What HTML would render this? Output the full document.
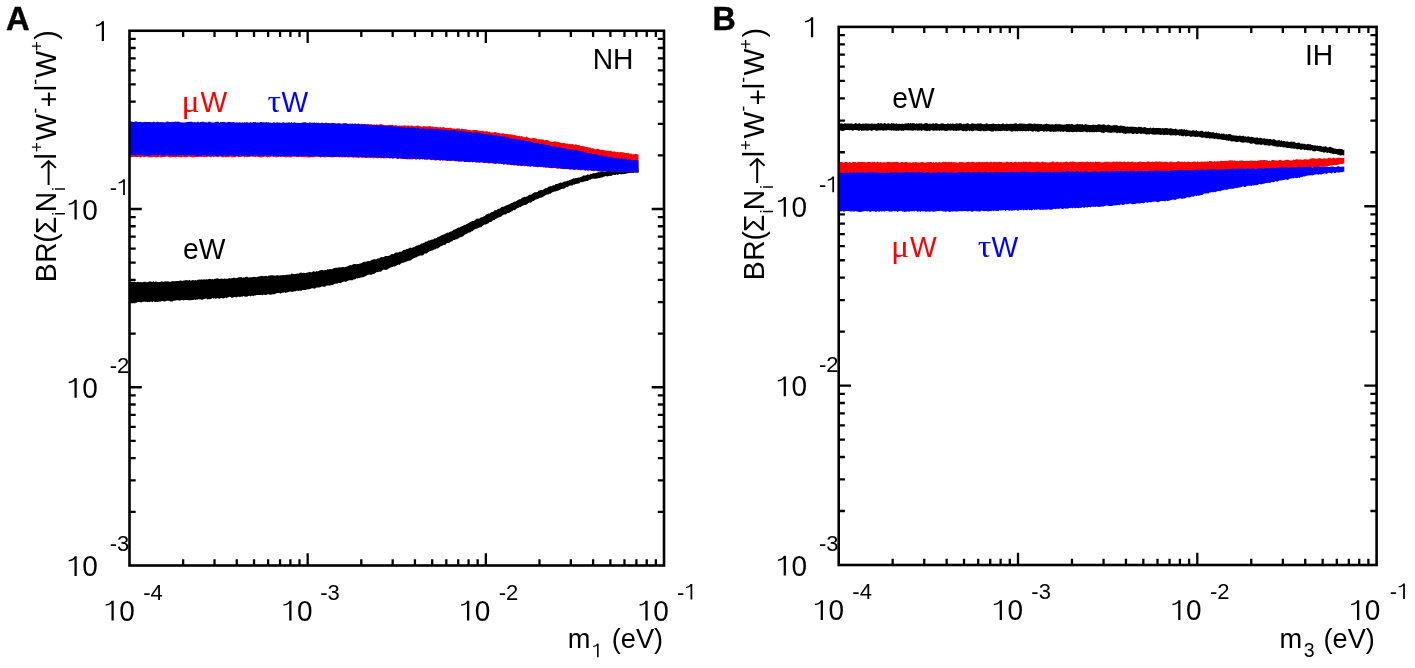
<!DOCTYPE html>
<html><head><meta charset="utf-8"><style>
html,body{margin:0;padding:0;background:#fff;width:1415px;height:668px;overflow:hidden}
svg{display:block;will-change:transform}
text{font-family:"Liberation Sans",sans-serif}
</style></head><body>
<svg width="1415" height="668" viewBox="0 0 1415 668">
<rect width="1415" height="668" fill="#fff"/>
<path d="M183.13,565.5 V559.30 M183.13,30.75 V36.95 M129.5,511.84 H135.70 M664.0,511.84 H657.80 M214.51,565.5 V559.30 M214.51,30.75 V36.95 M129.5,480.45 H135.70 M664.0,480.45 H657.80 M236.77,565.5 V559.30 M236.77,30.75 V36.95 M129.5,458.18 H135.70 M664.0,458.18 H657.80 M254.03,565.5 V559.30 M254.03,30.75 V36.95 M129.5,440.91 H135.70 M664.0,440.91 H657.80 M268.14,565.5 V559.30 M268.14,30.75 V36.95 M129.5,426.79 H135.70 M664.0,426.79 H657.80 M280.07,565.5 V559.30 M280.07,30.75 V36.95 M129.5,414.86 H135.70 M664.0,414.86 H657.80 M290.40,565.5 V559.30 M290.40,30.75 V36.95 M129.5,404.52 H135.70 M664.0,404.52 H657.80 M299.51,565.5 V559.30 M299.51,30.75 V36.95 M129.5,395.41 H135.70 M664.0,395.41 H657.80 M307.67,565.5 V553.20 M307.67,30.75 V43.05 M129.5,387.25 H141.80 M664.0,387.25 H651.70 M361.30,565.5 V559.30 M361.30,30.75 V36.95 M129.5,333.59 H135.70 M664.0,333.59 H657.80 M392.67,565.5 V559.30 M392.67,30.75 V36.95 M129.5,302.20 H135.70 M664.0,302.20 H657.80 M414.93,565.5 V559.30 M414.93,30.75 V36.95 M129.5,279.93 H135.70 M664.0,279.93 H657.80 M432.20,565.5 V559.30 M432.20,30.75 V36.95 M129.5,262.66 H135.70 M664.0,262.66 H657.80 M446.31,565.5 V559.30 M446.31,30.75 V36.95 M129.5,248.54 H135.70 M664.0,248.54 H657.80 M458.23,565.5 V559.30 M458.23,30.75 V36.95 M129.5,236.61 H135.70 M664.0,236.61 H657.80 M468.57,565.5 V559.30 M468.57,30.75 V36.95 M129.5,226.27 H135.70 M664.0,226.27 H657.80 M477.68,565.5 V559.30 M477.68,30.75 V36.95 M129.5,217.16 H135.70 M664.0,217.16 H657.80 M485.83,565.5 V553.20 M485.83,30.75 V43.05 M129.5,209.00 H141.80 M664.0,209.00 H651.70 M539.47,565.5 V559.30 M539.47,30.75 V36.95 M129.5,155.34 H135.70 M664.0,155.34 H657.80 M570.84,565.5 V559.30 M570.84,30.75 V36.95 M129.5,123.95 H135.70 M664.0,123.95 H657.80 M593.10,565.5 V559.30 M593.10,30.75 V36.95 M129.5,101.68 H135.70 M664.0,101.68 H657.80 M610.37,565.5 V559.30 M610.37,30.75 V36.95 M129.5,84.41 H135.70 M664.0,84.41 H657.80 M624.47,565.5 V559.30 M624.47,30.75 V36.95 M129.5,70.29 H135.70 M664.0,70.29 H657.80 M636.40,565.5 V559.30 M636.40,30.75 V36.95 M129.5,58.36 H135.70 M664.0,58.36 H657.80 M646.73,565.5 V559.30 M646.73,30.75 V36.95 M129.5,48.02 H135.70 M664.0,48.02 H657.80 M655.85,565.5 V559.30 M655.85,30.75 V36.95 M129.5,38.91 H135.70 M664.0,38.91 H657.80" stroke="#000" stroke-width="2.3" fill="none"/>
<path d="M892.67,565.0 V558.80 M892.67,26.9 V33.10 M838.7,511.01 H844.90 M1376.6,511.01 H1370.40 M924.25,565.0 V558.80 M924.25,26.9 V33.10 M838.7,479.42 H844.90 M1376.6,479.42 H1370.40 M946.65,565.0 V558.80 M946.65,26.9 V33.10 M838.7,457.01 H844.90 M1376.6,457.01 H1370.40 M964.03,565.0 V558.80 M964.03,26.9 V33.10 M838.7,439.63 H844.90 M1376.6,439.63 H1370.40 M978.22,565.0 V558.80 M978.22,26.9 V33.10 M838.7,425.43 H844.90 M1376.6,425.43 H1370.40 M990.23,565.0 V558.80 M990.23,26.9 V33.10 M838.7,413.42 H844.90 M1376.6,413.42 H1370.40 M1000.62,565.0 V558.80 M1000.62,26.9 V33.10 M838.7,403.02 H844.90 M1376.6,403.02 H1370.40 M1009.80,565.0 V558.80 M1009.80,26.9 V33.10 M838.7,393.84 H844.90 M1376.6,393.84 H1370.40 M1018.00,565.0 V552.70 M1018.00,26.9 V39.20 M838.7,385.63 H851.00 M1376.6,385.63 H1364.30 M1071.97,565.0 V558.80 M1071.97,26.9 V33.10 M838.7,331.64 H844.90 M1376.6,331.64 H1370.40 M1103.55,565.0 V558.80 M1103.55,26.9 V33.10 M838.7,300.05 H844.90 M1376.6,300.05 H1370.40 M1125.95,565.0 V558.80 M1125.95,26.9 V33.10 M838.7,277.64 H844.90 M1376.6,277.64 H1370.40 M1143.33,565.0 V558.80 M1143.33,26.9 V33.10 M838.7,260.26 H844.90 M1376.6,260.26 H1370.40 M1157.52,565.0 V558.80 M1157.52,26.9 V33.10 M838.7,246.06 H844.90 M1376.6,246.06 H1370.40 M1169.53,565.0 V558.80 M1169.53,26.9 V33.10 M838.7,234.05 H844.90 M1376.6,234.05 H1370.40 M1179.92,565.0 V558.80 M1179.92,26.9 V33.10 M838.7,223.65 H844.90 M1376.6,223.65 H1370.40 M1189.10,565.0 V558.80 M1189.10,26.9 V33.10 M838.7,214.47 H844.90 M1376.6,214.47 H1370.40 M1197.30,565.0 V552.70 M1197.30,26.9 V39.20 M838.7,206.27 H851.00 M1376.6,206.27 H1364.30 M1251.27,565.0 V558.80 M1251.27,26.9 V33.10 M838.7,152.27 H844.90 M1376.6,152.27 H1370.40 M1282.85,565.0 V558.80 M1282.85,26.9 V33.10 M838.7,120.69 H844.90 M1376.6,120.69 H1370.40 M1305.25,565.0 V558.80 M1305.25,26.9 V33.10 M838.7,98.28 H844.90 M1376.6,98.28 H1370.40 M1322.63,565.0 V558.80 M1322.63,26.9 V33.10 M838.7,80.89 H844.90 M1376.6,80.89 H1370.40 M1336.82,565.0 V558.80 M1336.82,26.9 V33.10 M838.7,66.69 H844.90 M1376.6,66.69 H1370.40 M1348.83,565.0 V558.80 M1348.83,26.9 V33.10 M838.7,54.68 H844.90 M1376.6,54.68 H1370.40 M1359.22,565.0 V558.80 M1359.22,26.9 V33.10 M838.7,44.28 H844.90 M1376.6,44.28 H1370.40 M1368.40,565.0 V558.80 M1368.40,26.9 V33.10 M838.7,35.11 H844.90 M1376.6,35.11 H1370.40" stroke="#000" stroke-width="2.3" fill="none"/>
<path d="M129.5,281.6 L130.7,281.9 L131.9,281.4 L133.1,282.1 L134.3,281.6 L135.5,281.9 L136.7,282.2 L137.9,281.8 L139.1,282.3 L140.3,281.9 L141.5,282.3 L142.7,282.3 L143.9,281.9 L145.1,281.5 L146.3,282.3 L147.5,282.2 L148.7,281.7 L149.9,281.3 L151.1,281.7 L152.3,281.9 L153.5,281.3 L154.7,282.3 L155.9,281.3 L157.1,281.9 L158.3,282.1 L159.5,282.1 L160.7,281.8 L161.9,281.2 L163.1,281.9 L164.3,281.4 L165.5,281.3 L166.7,281.5 L167.9,281.3 L169.1,281.8 L170.3,281.7 L171.5,281.5 L172.7,281.0 L173.9,281.2 L175.1,281.3 L176.3,280.9 L177.5,281.0 L178.7,281.1 L179.9,280.5 L181.1,280.5 L182.3,281.0 L183.5,280.6 L184.7,280.6 L185.9,280.1 L187.1,280.2 L188.3,280.6 L189.5,279.8 L190.7,280.7 L191.9,280.3 L193.1,279.9 L194.3,280.5 L195.5,280.0 L196.7,280.5 L197.9,279.7 L199.1,279.5 L200.3,279.7 L201.5,279.3 L202.7,279.8 L203.9,279.3 L205.1,279.4 L206.3,279.3 L207.5,279.4 L208.7,278.9 L209.9,278.7 L211.1,279.2 L212.3,278.9 L213.5,279.5 L214.7,278.8 L215.9,278.7 L217.1,278.3 L218.3,278.4 L219.5,279.0 L220.7,278.8 L221.9,278.4 L223.1,279.0 L224.3,278.5 L225.5,278.8 L226.7,278.7 L227.9,278.7 L229.1,277.9 L230.3,278.5 L231.5,278.3 L232.7,278.1 L233.9,277.5 L235.1,278.3 L236.3,277.9 L237.5,277.7 L238.7,277.2 L239.9,277.3 L241.1,277.1 L242.3,277.7 L243.5,277.5 L244.7,277.5 L245.9,276.8 L247.1,276.7 L248.3,277.5 L249.5,277.4 L250.7,277.3 L251.9,277.2 L253.1,276.9 L254.3,276.7 L255.5,277.0 L256.7,277.2 L257.9,276.6 L259.1,276.6 L260.3,276.3 L261.5,275.8 L262.7,276.0 L263.9,276.2 L265.1,276.0 L266.3,275.8 L267.5,276.4 L268.7,275.4 L269.9,275.5 L271.1,275.3 L272.3,275.3 L273.5,275.6 L274.7,275.5 L275.9,275.8 L277.1,275.1 L278.3,275.6 L279.5,275.5 L280.7,275.3 L281.9,275.2 L283.1,274.9 L284.3,275.2 L285.5,275.1 L286.7,274.8 L287.9,274.8 L289.1,274.4 L290.3,274.7 L291.5,273.6 L292.7,273.8 L293.9,274.2 L295.1,274.0 L296.3,273.7 L297.5,273.6 L298.7,273.7 L299.9,272.8 L301.1,272.5 L302.3,273.0 L303.5,272.8 L304.7,273.1 L305.9,273.0 L307.1,272.6 L308.3,272.5 L309.5,271.7 L310.7,272.3 L311.9,272.3 L313.1,271.2 L314.3,271.5 L315.5,271.7 L316.7,271.1 L317.9,271.5 L319.1,270.8 L320.3,270.2 L321.5,270.1 L322.7,270.1 L323.9,270.4 L325.1,270.1 L326.3,270.2 L327.5,269.3 L328.7,269.4 L329.9,268.9 L331.1,269.2 L332.3,269.1 L333.5,268.3 L334.7,267.9 L335.9,267.8 L337.1,267.7 L338.3,267.4 L339.5,267.3 L340.7,267.6 L341.9,267.1 L343.1,267.0 L344.3,267.2 L345.5,266.9 L346.7,266.4 L347.9,266.2 L349.1,265.5 L350.3,264.9 L351.5,265.2 L352.7,264.4 L353.9,264.1 L355.1,263.9 L356.3,264.3 L357.5,264.1 L358.7,263.9 L359.9,263.6 L361.1,263.3 L362.3,262.6 L363.5,262.0 L364.7,261.7 L365.9,261.8 L367.1,261.3 L368.3,260.9 L369.5,261.3 L370.7,260.4 L371.9,259.8 L373.1,259.6 L374.3,259.3 L375.5,259.3 L376.7,259.3 L377.9,258.3 L379.1,258.4 L380.3,257.6 L381.5,257.0 L382.7,257.3 L383.9,256.9 L385.1,256.0 L386.3,255.9 L387.5,256.1 L388.7,255.8 L389.9,255.4 L391.1,254.2 L392.3,253.9 L393.5,254.2 L394.7,253.1 L395.9,252.5 L397.1,252.5 L398.3,252.4 L399.5,251.8 L400.7,251.8 L401.9,251.5 L403.1,250.1 L404.3,250.0 L405.5,249.7 L406.7,248.8 L407.9,249.0 L409.1,248.0 L410.3,247.6 L411.5,247.9 L412.7,247.4 L413.9,246.9 L415.1,246.5 L416.3,245.7 L417.5,245.6 L418.7,244.9 L419.9,244.8 L421.1,243.4 L422.3,243.6 L423.5,243.0 L424.7,242.4 L425.9,241.5 L427.1,241.6 L428.3,240.5 L429.5,240.5 L430.7,240.0 L431.9,239.5 L433.1,239.5 L434.3,238.6 L435.5,238.4 L436.7,238.0 L437.9,236.7 L439.1,236.8 L440.3,236.0 L441.5,235.2 L442.7,234.8 L443.9,234.6 L445.1,233.8 L446.3,233.3 L447.5,232.5 L448.7,232.7 L449.9,231.7 L451.1,231.5 L452.3,230.9 L453.5,229.8 L454.7,229.6 L455.9,229.0 L457.1,228.2 L458.3,227.5 L459.5,227.4 L460.7,226.7 L461.9,226.3 L463.1,225.7 L464.3,224.9 L465.5,224.7 L466.7,224.0 L467.9,223.5 L469.1,222.4 L470.3,222.1 L471.5,221.4 L472.7,220.7 L473.9,220.9 L475.1,220.0 L476.3,219.0 L477.5,218.6 L478.7,218.8 L479.9,218.2 L481.1,217.3 L482.3,217.2 L483.5,216.4 L484.7,216.0 L485.9,214.8 L487.1,214.1 L488.3,213.4 L489.5,213.7 L490.7,212.5 L491.9,212.0 L493.1,212.0 L494.3,210.6 L495.5,209.9 L496.7,210.2 L497.9,208.8 L499.1,208.8 L500.3,208.2 L501.5,207.1 L502.7,206.7 L503.9,206.8 L505.1,206.0 L506.3,205.3 L507.5,205.0 L508.7,204.6 L509.9,203.9 L511.1,202.9 L512.3,203.1 L513.5,202.0 L514.7,201.5 L515.9,201.5 L517.1,200.6 L518.3,199.7 L519.5,199.3 L520.7,199.2 L521.9,197.7 L523.1,197.4 L524.3,196.7 L525.5,197.1 L526.7,196.4 L527.9,196.1 L529.1,194.8 L530.3,194.8 L531.5,194.5 L532.7,193.6 L533.9,192.6 L535.1,192.2 L536.3,192.3 L537.5,191.9 L538.7,190.6 L539.9,190.5 L541.1,189.8 L542.3,190.0 L543.5,189.6 L544.7,188.4 L545.9,188.2 L547.1,188.1 L548.3,186.7 L549.5,186.6 L550.7,186.0 L551.9,186.3 L553.1,185.0 L554.3,185.4 L555.5,184.1 L556.7,184.1 L557.9,183.8 L559.1,183.2 L560.3,182.4 L561.5,182.7 L562.7,182.4 L563.9,181.6 L565.1,181.5 L566.3,181.2 L567.5,180.8 L568.7,180.5 L569.9,180.0 L571.1,179.5 L572.3,179.1 L573.5,178.3 L574.7,178.4 L575.9,177.9 L577.1,177.9 L578.3,177.4 L579.5,177.4 L580.7,176.8 L581.9,176.7 L583.1,175.6 L584.3,175.5 L585.5,175.6 L586.7,175.0 L587.9,174.2 L589.1,174.9 L590.3,173.8 L591.5,173.9 L592.7,173.6 L593.9,173.0 L595.1,173.2 L596.3,172.8 L597.5,172.4 L598.7,171.9 L599.9,172.3 L601.1,171.6 L602.3,171.5 L603.5,171.4 L604.7,171.4 L605.9,171.3 L607.1,171.4 L608.3,171.2 L609.5,171.1 L610.7,170.2 L611.9,170.5 L613.1,170.5 L614.3,170.4 L615.5,169.5 L616.7,169.3 L617.9,169.4 L619.1,169.7 L620.3,169.6 L621.5,169.5 L622.7,169.2 L623.9,169.4 L625.1,169.0 L626.3,169.1 L627.5,168.3 L628.7,168.2 L629.9,168.6 L631.1,168.9 L632.3,168.1 L633.5,168.8 L634.7,168.7 L635.9,169.0 L637.1,168.6 L638.3,168.5 L638.5,168.4 L638.5,172.6 L638.3,172.9 L637.1,172.4 L635.9,172.7 L634.7,172.6 L633.5,173.0 L632.3,172.7 L631.1,172.7 L629.9,173.1 L628.7,173.1 L627.5,173.6 L626.3,173.6 L625.1,173.9 L623.9,174.0 L622.7,174.1 L621.5,174.4 L620.3,174.0 L619.1,174.1 L617.9,175.0 L616.7,174.2 L615.5,175.0 L614.3,175.1 L613.1,174.6 L611.9,175.7 L610.7,175.9 L609.5,175.8 L608.3,176.2 L607.1,176.5 L605.9,175.9 L604.7,176.6 L603.5,176.8 L602.3,177.4 L601.1,177.6 L599.9,177.9 L598.7,177.9 L597.5,178.5 L596.3,178.6 L595.1,178.9 L593.9,178.6 L592.7,178.7 L591.5,179.1 L590.3,179.7 L589.1,179.7 L587.9,180.9 L586.7,180.9 L585.5,181.3 L584.3,181.6 L583.1,182.1 L581.9,182.2 L580.7,182.0 L579.5,183.3 L578.3,183.6 L577.1,183.7 L575.9,184.1 L574.7,184.6 L573.5,184.4 L572.3,185.5 L571.1,185.4 L569.9,185.6 L568.7,186.2 L567.5,187.2 L566.3,187.0 L565.1,188.1 L563.9,188.8 L562.7,188.7 L561.5,189.0 L560.3,189.6 L559.1,190.2 L557.9,190.8 L556.7,191.1 L555.5,191.6 L554.3,191.5 L553.1,192.0 L551.9,192.6 L550.7,193.7 L549.5,193.7 L548.3,194.5 L547.1,194.4 L545.9,194.9 L544.7,195.7 L543.5,196.6 L542.3,197.2 L541.1,197.7 L539.9,197.8 L538.7,198.5 L537.5,199.0 L536.3,199.6 L535.1,199.7 L533.9,201.1 L532.7,200.9 L531.5,202.3 L530.3,202.8 L529.1,202.4 L527.9,203.4 L526.7,204.4 L525.5,205.1 L524.3,205.1 L523.1,205.5 L521.9,206.0 L520.7,207.3 L519.5,207.1 L518.3,208.1 L517.1,208.2 L515.9,209.2 L514.7,210.3 L513.5,209.9 L512.3,211.3 L511.1,211.5 L509.9,212.5 L508.7,212.9 L507.5,213.0 L506.3,214.3 L505.1,214.5 L503.9,214.6 L502.7,215.2 L501.5,216.3 L500.3,216.9 L499.1,217.3 L497.9,217.7 L496.7,218.5 L495.5,219.1 L494.3,220.3 L493.1,220.0 L491.9,221.4 L490.7,222.1 L489.5,221.9 L488.3,223.4 L487.1,223.8 L485.9,224.6 L484.7,224.6 L483.5,225.3 L482.3,225.9 L481.1,227.2 L479.9,227.3 L478.7,227.7 L477.5,228.4 L476.3,228.8 L475.1,229.2 L473.9,229.8 L472.7,231.2 L471.5,231.2 L470.3,232.6 L469.1,232.4 L467.9,233.0 L466.7,233.9 L465.5,234.2 L464.3,235.0 L463.1,236.2 L461.9,236.7 L460.7,237.2 L459.5,237.6 L458.3,238.5 L457.1,239.2 L455.9,239.3 L454.7,240.1 L453.5,239.9 L452.3,241.3 L451.1,241.6 L449.9,242.5 L448.7,242.9 L447.5,243.1 L446.3,243.4 L445.1,245.0 L443.9,244.7 L442.7,245.6 L441.5,246.0 L440.3,246.6 L439.1,247.6 L437.9,248.4 L436.7,248.2 L435.5,249.2 L434.3,249.4 L433.1,250.2 L431.9,250.6 L430.7,250.9 L429.5,251.4 L428.3,252.0 L427.1,253.3 L425.9,253.4 L424.7,253.6 L423.5,254.9 L422.3,255.5 L421.1,255.4 L419.9,255.6 L418.7,256.2 L417.5,256.6 L416.3,257.4 L415.1,257.6 L413.9,258.3 L412.7,258.8 L411.5,259.7 L410.3,260.5 L409.1,260.8 L407.9,261.0 L406.7,261.5 L405.5,262.1 L404.3,262.4 L403.1,262.8 L401.9,263.0 L400.7,263.7 L399.5,264.9 L398.3,264.5 L397.1,265.3 L395.9,265.9 L394.7,266.6 L393.5,266.4 L392.3,266.9 L391.1,267.3 L389.9,267.9 L388.7,268.4 L387.5,269.4 L386.3,269.7 L385.1,270.1 L383.9,269.6 L382.7,270.0 L381.5,271.2 L380.3,271.8 L379.1,271.8 L377.9,272.3 L376.7,272.0 L375.5,272.9 L374.3,273.8 L373.1,274.1 L371.9,274.5 L370.7,275.0 L369.5,274.6 L368.3,274.8 L367.1,275.3 L365.9,276.0 L364.7,276.6 L363.5,277.2 L362.3,277.3 L361.1,277.6 L359.9,278.1 L358.7,278.1 L357.5,278.5 L356.3,278.3 L355.1,279.4 L353.9,279.2 L352.7,280.2 L351.5,280.3 L350.3,280.2 L349.1,280.3 L347.9,280.8 L346.7,281.5 L345.5,281.9 L344.3,281.5 L343.1,281.8 L341.9,282.6 L340.7,282.9 L339.5,283.0 L338.3,283.1 L337.1,283.8 L335.9,283.4 L334.7,284.0 L333.5,284.4 L332.3,285.2 L331.1,285.1 L329.9,285.7 L328.7,285.5 L327.5,285.5 L326.3,285.7 L325.1,286.7 L323.9,286.7 L322.7,286.5 L321.5,286.4 L320.3,287.2 L319.1,287.6 L317.9,287.5 L316.7,287.6 L315.5,288.2 L314.3,288.7 L313.1,288.2 L311.9,288.2 L310.7,288.7 L309.5,289.0 L308.3,289.5 L307.1,289.2 L305.9,290.0 L304.7,290.1 L303.5,290.1 L302.3,289.9 L301.1,290.9 L299.9,290.4 L298.7,291.1 L297.5,290.7 L296.3,290.8 L295.1,291.6 L293.9,291.2 L292.7,292.1 L291.5,291.8 L290.3,291.6 L289.1,291.8 L287.9,292.2 L286.7,292.6 L285.5,293.1 L284.3,292.3 L283.1,292.7 L281.9,292.7 L280.7,293.7 L279.5,292.9 L278.3,292.9 L277.1,293.1 L275.9,293.6 L274.7,294.2 L273.5,294.3 L272.3,294.3 L271.1,294.7 L269.9,294.8 L268.7,294.2 L267.5,294.2 L266.3,295.1 L265.1,295.0 L263.9,294.4 L262.7,295.2 L261.5,295.0 L260.3,295.1 L259.1,295.1 L257.9,295.1 L256.7,295.0 L255.5,295.4 L254.3,295.6 L253.1,296.3 L251.9,295.5 L250.7,296.5 L249.5,295.8 L248.3,296.1 L247.1,296.7 L245.9,296.8 L244.7,296.4 L243.5,296.1 L242.3,296.7 L241.1,296.6 L239.9,297.3 L238.7,296.6 L237.5,296.9 L236.3,297.6 L235.1,296.7 L233.9,297.2 L232.7,297.7 L231.5,297.7 L230.3,297.0 L229.1,297.1 L227.9,297.2 L226.7,298.2 L225.5,297.6 L224.3,298.2 L223.1,298.4 L221.9,297.9 L220.7,297.9 L219.5,298.7 L218.3,298.4 L217.1,298.1 L215.9,298.7 L214.7,298.3 L213.5,298.4 L212.3,298.1 L211.1,299.0 L209.9,299.3 L208.7,299.0 L207.5,299.4 L206.3,298.5 L205.1,298.8 L203.9,299.1 L202.7,299.7 L201.5,299.8 L200.3,299.3 L199.1,299.2 L197.9,299.4 L196.7,299.6 L195.5,300.1 L194.3,299.4 L193.1,300.1 L191.9,300.1 L190.7,300.3 L189.5,300.3 L188.3,300.2 L187.1,299.9 L185.9,300.0 L184.7,300.1 L183.5,300.6 L182.3,299.9 L181.1,300.1 L179.9,300.8 L178.7,300.3 L177.5,300.2 L176.3,300.2 L175.1,300.8 L173.9,300.6 L172.7,301.4 L171.5,301.4 L170.3,301.5 L169.1,300.8 L167.9,300.7 L166.7,300.7 L165.5,301.2 L164.3,301.5 L163.1,301.3 L161.9,301.1 L160.7,301.4 L159.5,301.6 L158.3,301.8 L157.1,301.9 L155.9,302.1 L154.7,301.9 L153.5,301.3 L152.3,302.2 L151.1,301.6 L149.9,302.0 L148.7,301.8 L147.5,302.2 L146.3,301.7 L145.1,301.8 L143.9,301.8 L142.7,301.7 L141.5,302.6 L140.3,302.3 L139.1,302.0 L137.9,302.1 L136.7,302.8 L135.5,302.3 L134.3,302.0 L133.1,302.7 L131.9,302.5 L130.7,302.9 L129.5,301.9Z" fill="#000"/>
<path d="M129.5,122.7 L130.7,122.3 L131.9,122.3 L133.1,122.2 L134.3,123.2 L135.5,122.9 L136.7,123.1 L137.9,123.0 L139.1,122.2 L140.3,122.6 L141.5,122.2 L142.7,122.8 L143.9,122.3 L145.1,122.8 L146.3,123.0 L147.5,122.4 L148.7,122.2 L149.9,123.1 L151.1,122.6 L152.3,122.6 L153.5,123.0 L154.7,122.9 L155.9,123.1 L157.1,123.1 L158.3,123.0 L159.5,122.6 L160.7,122.6 L161.9,123.1 L163.1,123.3 L164.3,122.9 L165.5,122.5 L166.7,123.1 L167.9,123.0 L169.1,123.1 L170.3,122.4 L171.5,122.7 L172.7,123.2 L173.9,123.2 L175.1,122.9 L176.3,122.7 L177.5,122.6 L178.7,123.2 L179.9,123.1 L181.1,122.6 L182.3,122.9 L183.5,123.0 L184.7,123.0 L185.9,122.3 L187.1,123.0 L188.3,122.7 L189.5,123.0 L190.7,122.9 L191.9,122.4 L193.1,122.3 L194.3,123.0 L195.5,123.1 L196.7,122.6 L197.9,123.1 L199.1,123.4 L200.3,122.4 L201.5,122.9 L202.7,122.5 L203.9,122.9 L205.1,122.4 L206.3,122.9 L207.5,123.2 L208.7,123.4 L209.9,122.8 L211.1,122.7 L212.3,122.4 L213.5,123.3 L214.7,122.7 L215.9,123.0 L217.1,122.9 L218.3,123.2 L219.5,123.1 L220.7,122.8 L221.9,122.4 L223.1,123.3 L224.3,122.9 L225.5,122.5 L226.7,122.4 L227.9,123.2 L229.1,123.3 L230.3,122.4 L231.5,122.4 L232.7,122.9 L233.9,123.4 L235.1,122.4 L236.3,123.0 L237.5,122.5 L238.7,122.8 L239.9,122.6 L241.1,123.3 L242.3,122.6 L243.5,123.2 L244.7,123.0 L245.9,122.5 L247.1,122.6 L248.3,123.3 L249.5,123.2 L250.7,123.1 L251.9,122.9 L253.1,123.1 L254.3,123.4 L255.5,123.2 L256.7,122.7 L257.9,122.5 L259.1,123.5 L260.3,122.9 L261.5,122.7 L262.7,123.5 L263.9,122.6 L265.1,123.4 L266.3,122.9 L267.5,122.9 L268.7,122.9 L269.9,123.2 L271.1,123.1 L272.3,122.9 L273.5,123.1 L274.7,122.8 L275.9,123.1 L277.1,123.1 L278.3,123.6 L279.5,122.9 L280.7,123.1 L281.9,123.3 L283.1,122.8 L284.3,122.8 L285.5,123.1 L286.7,123.4 L287.9,123.1 L289.1,123.5 L290.3,123.5 L291.5,123.2 L292.7,123.5 L293.9,123.2 L295.1,123.1 L296.3,123.6 L297.5,123.0 L298.7,123.6 L299.9,122.9 L301.1,122.8 L302.3,123.1 L303.5,123.6 L304.7,123.2 L305.9,123.3 L307.1,122.7 L308.3,123.6 L309.5,122.8 L310.7,122.6 L311.9,122.9 L313.1,122.9 L314.3,123.6 L315.5,122.7 L316.7,123.2 L317.9,122.7 L319.1,122.8 L320.3,123.6 L321.5,122.9 L322.7,122.8 L323.9,123.8 L325.1,123.5 L326.3,123.0 L327.5,123.7 L328.7,122.9 L329.9,123.6 L331.1,123.0 L332.3,123.8 L333.5,123.4 L334.7,123.0 L335.9,123.8 L337.1,123.7 L338.3,123.5 L339.5,123.7 L340.7,124.1 L341.9,123.9 L343.1,124.0 L344.3,123.2 L345.5,123.5 L346.7,123.3 L347.9,124.1 L349.1,123.4 L350.3,124.2 L351.5,123.8 L352.7,123.7 L353.9,124.0 L355.1,123.5 L356.3,123.9 L357.5,123.9 L358.7,123.6 L359.9,124.5 L361.1,123.5 L362.3,124.0 L363.5,124.3 L364.7,123.9 L365.9,124.5 L367.1,123.7 L368.3,124.2 L369.5,124.5 L370.7,124.1 L371.9,124.5 L373.1,124.8 L374.3,124.2 L375.5,125.0 L376.7,124.2 L377.9,124.9 L379.1,124.5 L380.3,124.1 L381.5,124.6 L382.7,124.5 L383.9,125.0 L385.1,125.3 L386.3,125.3 L387.5,125.3 L388.7,124.8 L389.9,125.0 L391.1,125.0 L392.3,124.6 L393.5,125.5 L394.7,125.4 L395.9,125.0 L397.1,125.7 L398.3,125.8 L399.5,125.4 L400.7,125.7 L401.9,125.5 L403.1,125.7 L404.3,125.3 L405.5,125.4 L406.7,125.8 L407.9,125.4 L409.1,125.6 L410.3,126.1 L411.5,125.2 L412.7,126.0 L413.9,126.2 L415.1,126.3 L416.3,125.8 L417.5,125.5 L418.7,125.7 L419.9,126.2 L421.1,126.4 L422.3,126.7 L423.5,126.1 L424.7,126.2 L425.9,126.5 L427.1,126.2 L428.3,126.5 L429.5,126.0 L430.7,126.3 L431.9,126.9 L433.1,126.3 L434.3,127.3 L435.5,126.8 L436.7,127.1 L437.9,127.3 L439.1,127.6 L440.3,126.9 L441.5,127.8 L442.7,127.3 L443.9,127.0 L445.1,128.0 L446.3,128.0 L447.5,127.7 L448.7,127.9 L449.9,127.8 L451.1,127.7 L452.3,128.5 L453.5,128.5 L454.7,128.6 L455.9,129.0 L457.1,128.2 L458.3,128.4 L459.5,128.6 L460.7,129.5 L461.9,128.6 L463.1,128.9 L464.3,129.3 L465.5,129.1 L466.7,129.5 L467.9,129.9 L469.1,130.1 L470.3,130.1 L471.5,130.4 L472.7,130.2 L473.9,129.9 L475.1,130.1 L476.3,130.0 L477.5,130.3 L478.7,130.9 L479.9,130.7 L481.1,131.0 L482.3,130.8 L483.5,131.2 L484.7,131.6 L485.9,131.3 L487.1,131.1 L488.3,132.1 L489.5,131.5 L490.7,132.6 L491.9,132.4 L493.1,132.6 L494.3,132.2 L495.5,132.1 L496.7,132.5 L497.9,133.1 L499.1,132.7 L500.3,133.4 L501.5,133.7 L502.7,133.1 L503.9,133.6 L505.1,133.7 L506.3,133.9 L507.5,133.7 L508.7,134.4 L509.9,134.2 L511.1,134.5 L512.3,134.5 L513.5,135.2 L514.7,135.0 L515.9,135.4 L517.1,135.8 L518.3,136.1 L519.5,135.8 L520.7,136.6 L521.9,135.9 L523.1,136.9 L524.3,137.2 L525.5,137.3 L526.7,136.6 L527.9,137.5 L529.1,137.9 L530.3,138.2 L531.5,138.4 L532.7,137.9 L533.9,138.1 L535.1,138.3 L536.3,138.4 L537.5,139.4 L538.7,139.0 L539.9,139.5 L541.1,139.2 L542.3,139.4 L543.5,139.5 L544.7,140.6 L545.9,139.9 L547.1,140.0 L548.3,140.2 L549.5,141.3 L550.7,141.4 L551.9,141.7 L553.1,141.9 L554.3,141.2 L555.5,141.4 L556.7,141.8 L557.9,141.8 L559.1,142.1 L560.3,142.7 L561.5,143.1 L562.7,143.2 L563.9,142.7 L565.1,143.5 L566.3,143.5 L567.5,143.6 L568.7,144.2 L569.9,144.1 L571.1,144.3 L572.3,144.0 L573.5,144.5 L574.7,144.8 L575.9,144.3 L577.1,145.0 L578.3,144.9 L579.5,145.3 L580.7,146.2 L581.9,146.1 L583.1,146.3 L584.3,146.2 L585.5,146.9 L586.7,146.7 L587.9,147.2 L589.1,147.8 L590.3,147.3 L591.5,148.4 L592.7,147.9 L593.9,148.8 L595.1,149.2 L596.3,149.2 L597.5,148.8 L598.7,148.8 L599.9,150.1 L601.1,149.7 L602.3,149.9 L603.5,149.8 L604.7,150.6 L605.9,150.4 L607.1,150.8 L608.3,150.4 L609.5,151.2 L610.7,150.6 L611.9,151.5 L613.1,151.7 L614.3,151.3 L615.5,151.7 L616.7,152.3 L617.9,151.8 L619.1,152.6 L620.3,152.0 L621.5,152.2 L622.7,152.3 L623.9,152.6 L625.1,153.0 L626.3,153.1 L627.5,153.3 L628.7,152.9 L629.9,153.9 L631.1,153.2 L632.3,154.2 L633.5,154.2 L634.7,154.3 L635.9,153.7 L637.1,154.3 L638.3,154.6 L638.5,154.0 L638.5,171.9 L638.3,172.1 L637.1,172.2 L635.9,172.4 L634.7,172.3 L633.5,172.2 L632.3,171.9 L631.1,171.8 L629.9,171.6 L628.7,172.3 L627.5,172.1 L626.3,172.1 L625.1,171.5 L623.9,171.8 L622.7,172.1 L621.5,171.8 L620.3,171.3 L619.1,171.7 L617.9,172.1 L616.7,171.3 L615.5,171.3 L614.3,171.3 L613.1,171.7 L611.9,171.9 L610.7,171.1 L609.5,171.0 L608.3,171.1 L607.1,171.1 L605.9,171.3 L604.7,170.9 L603.5,171.0 L602.3,170.8 L601.1,171.6 L599.9,171.3 L598.7,170.6 L597.5,171.4 L596.3,170.4 L595.1,170.7 L593.9,171.3 L592.7,171.0 L591.5,170.9 L590.3,170.5 L589.1,170.1 L587.9,170.6 L586.7,169.9 L585.5,169.9 L584.3,170.0 L583.1,169.6 L581.9,169.9 L580.7,170.2 L579.5,170.1 L578.3,169.8 L577.1,169.8 L575.9,169.6 L574.7,169.1 L573.5,169.6 L572.3,169.3 L571.1,169.6 L569.9,169.7 L568.7,169.0 L567.5,169.1 L566.3,169.2 L565.1,168.8 L563.9,168.5 L562.7,168.9 L561.5,169.0 L560.3,168.8 L559.1,168.6 L557.9,168.7 L556.7,168.4 L555.5,168.3 L554.3,168.0 L553.1,167.8 L551.9,168.0 L550.7,167.4 L549.5,167.6 L548.3,167.9 L547.1,167.8 L545.9,167.6 L544.7,167.1 L543.5,167.2 L542.3,167.1 L541.1,167.2 L539.9,166.9 L538.7,167.1 L537.5,167.3 L536.3,166.4 L535.1,166.8 L533.9,166.8 L532.7,166.3 L531.5,166.3 L530.3,166.8 L529.1,165.6 L527.9,166.1 L526.7,165.6 L525.5,166.2 L524.3,166.3 L523.1,165.7 L521.9,165.2 L520.7,165.6 L519.5,165.5 L518.3,165.6 L517.1,165.2 L515.9,165.3 L514.7,165.4 L513.5,165.0 L512.3,164.7 L511.1,165.2 L509.9,164.3 L508.7,164.8 L507.5,164.3 L506.3,164.7 L505.1,163.9 L503.9,164.7 L502.7,163.9 L501.5,163.5 L500.3,163.6 L499.1,163.7 L497.9,163.2 L496.7,163.5 L495.5,163.4 L494.3,163.7 L493.1,163.2 L491.9,163.0 L490.7,162.9 L489.5,163.4 L488.3,163.5 L487.1,163.0 L485.9,162.6 L484.7,163.1 L483.5,162.6 L482.3,162.3 L481.1,162.2 L479.9,162.8 L478.7,162.8 L477.5,162.5 L476.3,162.3 L475.1,162.3 L473.9,161.8 L472.7,162.6 L471.5,161.8 L470.3,162.1 L469.1,162.2 L467.9,162.1 L466.7,161.7 L465.5,161.4 L464.3,161.6 L463.1,161.1 L461.9,161.8 L460.7,161.2 L459.5,161.7 L458.3,161.0 L457.1,161.0 L455.9,160.8 L454.7,161.0 L453.5,160.6 L452.3,160.4 L451.1,161.1 L449.9,160.5 L448.7,160.4 L447.5,160.4 L446.3,160.5 L445.1,160.4 L443.9,160.6 L442.7,160.5 L441.5,160.1 L440.3,160.7 L439.1,160.5 L437.9,159.6 L436.7,160.4 L435.5,160.4 L434.3,160.2 L433.1,159.5 L431.9,160.2 L430.7,159.9 L429.5,159.2 L428.3,159.2 L427.1,160.1 L425.9,159.8 L424.7,159.3 L423.5,159.1 L422.3,159.1 L421.1,159.1 L419.9,159.7 L418.7,159.2 L417.5,158.9 L416.3,159.7 L415.1,159.5 L413.9,158.8 L412.7,159.6 L411.5,159.2 L410.3,159.4 L409.1,159.2 L407.9,159.4 L406.7,159.2 L405.5,159.2 L404.3,158.5 L403.1,159.0 L401.9,158.8 L400.7,159.0 L399.5,158.6 L398.3,159.1 L397.1,158.7 L395.9,158.3 L394.7,158.2 L393.5,158.1 L392.3,158.4 L391.1,157.9 L389.9,158.3 L388.7,157.9 L387.5,158.3 L386.3,158.2 L385.1,158.3 L383.9,158.6 L382.7,157.6 L381.5,158.5 L380.3,158.0 L379.1,158.1 L377.9,158.2 L376.7,158.3 L375.5,157.8 L374.3,157.8 L373.1,158.4 L371.9,157.4 L370.7,158.0 L369.5,157.9 L368.3,157.2 L367.1,157.8 L365.9,157.9 L364.7,158.1 L363.5,157.4 L362.3,158.1 L361.1,157.6 L359.9,157.5 L358.7,158.0 L357.5,157.0 L356.3,157.7 L355.1,157.6 L353.9,157.2 L352.7,157.8 L351.5,157.2 L350.3,157.3 L349.1,157.4 L347.9,157.6 L346.7,157.0 L345.5,157.2 L344.3,157.2 L343.1,157.3 L341.9,157.6 L340.7,157.0 L339.5,157.5 L338.3,157.1 L337.1,157.2 L335.9,156.9 L334.7,157.1 L333.5,157.6 L332.3,157.3 L331.1,157.4 L329.9,156.9 L328.7,156.9 L327.5,156.9 L326.3,157.2 L325.1,157.2 L323.9,157.4 L322.7,156.5 L321.5,157.3 L320.3,157.5 L319.1,157.1 L317.9,156.6 L316.7,156.8 L315.5,156.5 L314.3,156.7 L313.1,157.5 L311.9,157.2 L310.7,157.2 L309.5,157.4 L308.3,157.5 L307.1,157.2 L305.9,157.2 L304.7,157.2 L303.5,157.2 L302.3,157.1 L301.1,157.2 L299.9,156.7 L298.7,157.2 L297.5,157.0 L296.3,157.3 L295.1,156.6 L293.9,156.7 L292.7,156.5 L291.5,157.3 L290.3,157.5 L289.1,157.2 L287.9,156.9 L286.7,157.4 L285.5,157.3 L284.3,157.1 L283.1,156.8 L281.9,156.8 L280.7,156.9 L279.5,156.8 L278.3,156.9 L277.1,157.2 L275.9,157.5 L274.7,156.5 L273.5,157.1 L272.3,156.5 L271.1,156.6 L269.9,157.3 L268.7,157.1 L267.5,157.5 L266.3,156.9 L265.1,156.5 L263.9,156.9 L262.7,157.1 L261.5,157.5 L260.3,157.5 L259.1,157.0 L257.9,156.9 L256.7,156.6 L255.5,157.2 L254.3,156.7 L253.1,156.6 L251.9,156.5 L250.7,156.5 L249.5,157.2 L248.3,156.6 L247.1,157.5 L245.9,156.5 L244.7,157.4 L243.5,156.6 L242.3,156.5 L241.1,157.2 L239.9,156.7 L238.7,157.2 L237.5,156.6 L236.3,156.5 L235.1,157.3 L233.9,157.2 L232.7,157.4 L231.5,157.2 L230.3,156.5 L229.1,157.1 L227.9,157.2 L226.7,156.9 L225.5,157.5 L224.3,156.7 L223.1,157.5 L221.9,157.2 L220.7,156.4 L219.5,156.5 L218.3,157.1 L217.1,157.3 L215.9,156.5 L214.7,156.8 L213.5,157.2 L212.3,156.6 L211.1,157.4 L209.9,157.0 L208.7,156.5 L207.5,156.8 L206.3,157.1 L205.1,156.9 L203.9,157.2 L202.7,156.6 L201.5,157.3 L200.3,156.8 L199.1,157.1 L197.9,157.1 L196.7,156.9 L195.5,156.9 L194.3,157.3 L193.1,157.5 L191.9,157.3 L190.7,157.0 L189.5,156.7 L188.3,156.5 L187.1,157.5 L185.9,157.2 L184.7,157.3 L183.5,156.8 L182.3,157.1 L181.1,157.5 L179.9,157.3 L178.7,157.1 L177.5,156.8 L176.3,156.9 L175.1,157.4 L173.9,156.8 L172.7,157.2 L171.5,157.1 L170.3,157.4 L169.1,157.3 L167.9,156.7 L166.7,156.4 L165.5,156.7 L164.3,156.9 L163.1,157.1 L161.9,157.3 L160.7,157.4 L159.5,156.5 L158.3,157.3 L157.1,157.3 L155.9,157.4 L154.7,157.0 L153.5,156.7 L152.3,157.3 L151.1,157.3 L149.9,157.2 L148.7,157.4 L147.5,156.8 L146.3,156.5 L145.1,157.0 L143.9,157.3 L142.7,156.6 L141.5,157.2 L140.3,157.4 L139.1,156.7 L137.9,157.1 L136.7,157.1 L135.5,156.9 L134.3,156.6 L133.1,156.7 L131.9,157.2 L130.7,157.3 L129.5,156.9Z" fill="#ff0000"/>
<path d="M129.5,122.3 L130.7,121.5 L131.9,121.6 L133.1,122.2 L134.3,121.8 L135.5,121.4 L136.7,121.5 L137.9,121.9 L139.1,121.9 L140.3,121.8 L141.5,122.3 L142.7,122.3 L143.9,122.3 L145.1,121.7 L146.3,122.1 L147.5,121.9 L148.7,122.0 L149.9,121.9 L151.1,122.3 L152.3,122.5 L153.5,121.4 L154.7,122.1 L155.9,122.4 L157.1,121.8 L158.3,121.7 L159.5,122.4 L160.7,121.9 L161.9,122.2 L163.1,122.0 L164.3,122.5 L165.5,122.5 L166.7,121.5 L167.9,121.6 L169.1,122.0 L170.3,122.0 L171.5,122.3 L172.7,121.7 L173.9,122.1 L175.1,121.6 L176.3,121.8 L177.5,121.7 L178.7,121.6 L179.9,122.3 L181.1,122.6 L182.3,122.4 L183.5,122.4 L184.7,122.5 L185.9,122.6 L187.1,122.0 L188.3,121.7 L189.5,122.1 L190.7,121.6 L191.9,121.7 L193.1,122.6 L194.3,122.0 L195.5,122.2 L196.7,122.5 L197.9,121.6 L199.1,122.4 L200.3,122.1 L201.5,122.0 L202.7,121.6 L203.9,122.0 L205.1,122.3 L206.3,122.2 L207.5,122.5 L208.7,121.7 L209.9,121.6 L211.1,122.5 L212.3,122.7 L213.5,122.5 L214.7,122.4 L215.9,121.8 L217.1,121.8 L218.3,121.8 L219.5,122.7 L220.7,121.9 L221.9,122.0 L223.1,122.1 L224.3,121.7 L225.5,122.7 L226.7,122.6 L227.9,122.0 L229.1,121.8 L230.3,122.1 L231.5,122.5 L232.7,122.2 L233.9,122.0 L235.1,122.7 L236.3,122.5 L237.5,122.5 L238.7,122.7 L239.9,122.3 L241.1,122.7 L242.3,122.6 L243.5,122.7 L244.7,122.1 L245.9,122.9 L247.1,122.1 L248.3,122.7 L249.5,122.8 L250.7,121.9 L251.9,122.7 L253.1,121.9 L254.3,122.0 L255.5,121.9 L256.7,122.8 L257.9,122.4 L259.1,122.8 L260.3,121.9 L261.5,122.0 L262.7,122.3 L263.9,122.5 L265.1,122.6 L266.3,122.1 L267.5,122.5 L268.7,122.3 L269.9,122.8 L271.1,122.8 L272.3,123.0 L273.5,122.2 L274.7,122.4 L275.9,122.9 L277.1,122.1 L278.3,122.8 L279.5,122.6 L280.7,122.9 L281.9,122.8 L283.1,122.2 L284.3,122.7 L285.5,122.9 L286.7,122.6 L287.9,122.8 L289.1,122.1 L290.3,123.0 L291.5,122.1 L292.7,123.1 L293.9,122.2 L295.1,122.4 L296.3,123.0 L297.5,122.7 L298.7,122.9 L299.9,122.9 L301.1,123.0 L302.3,122.8 L303.5,122.2 L304.7,122.2 L305.9,122.2 L307.1,123.2 L308.3,123.0 L309.5,122.3 L310.7,123.2 L311.9,122.5 L313.1,123.0 L314.3,122.3 L315.5,123.3 L316.7,122.5 L317.9,123.0 L319.1,123.2 L320.3,123.4 L321.5,122.5 L322.7,122.9 L323.9,123.2 L325.1,123.0 L326.3,122.5 L327.5,123.3 L328.7,122.9 L329.9,123.4 L331.1,123.4 L332.3,122.8 L333.5,122.9 L334.7,123.5 L335.9,123.6 L337.1,123.7 L338.3,123.1 L339.5,123.3 L340.7,123.6 L341.9,123.7 L343.1,123.3 L344.3,123.3 L345.5,123.2 L346.7,123.5 L347.9,124.0 L349.1,124.2 L350.3,123.5 L351.5,123.9 L352.7,123.6 L353.9,124.4 L355.1,123.6 L356.3,124.2 L357.5,123.7 L358.7,123.8 L359.9,124.2 L361.1,124.8 L362.3,123.9 L363.5,124.4 L364.7,124.1 L365.9,124.8 L367.1,125.0 L368.3,124.3 L369.5,124.9 L370.7,125.2 L371.9,125.1 L373.1,124.9 L374.3,125.6 L375.5,125.1 L376.7,125.3 L377.9,125.3 L379.1,125.8 L380.3,125.2 L381.5,125.2 L382.7,125.2 L383.9,125.9 L385.1,125.5 L386.3,126.0 L387.5,125.7 L388.7,126.5 L389.9,125.7 L391.1,125.7 L392.3,126.3 L393.5,126.3 L394.7,126.4 L395.9,126.5 L397.1,127.1 L398.3,126.2 L399.5,127.1 L400.7,127.2 L401.9,127.4 L403.1,127.3 L404.3,126.7 L405.5,127.7 L406.7,127.7 L407.9,127.1 L409.1,127.8 L410.3,128.0 L411.5,127.5 L412.7,127.6 L413.9,127.7 L415.1,127.6 L416.3,128.4 L417.5,127.6 L418.7,127.9 L419.9,128.7 L421.1,128.7 L422.3,128.3 L423.5,128.4 L424.7,128.7 L425.9,129.0 L427.1,128.8 L428.3,129.1 L429.5,128.7 L430.7,128.5 L431.9,129.4 L433.1,129.0 L434.3,128.9 L435.5,129.6 L436.7,128.9 L437.9,128.9 L439.1,129.6 L440.3,129.6 L441.5,129.2 L442.7,129.7 L443.9,129.9 L445.1,129.4 L446.3,129.6 L447.5,130.2 L448.7,130.4 L449.9,130.4 L451.1,130.4 L452.3,129.9 L453.5,130.2 L454.7,130.1 L455.9,130.3 L457.1,130.4 L458.3,131.4 L459.5,131.0 L460.7,130.6 L461.9,130.7 L463.1,131.6 L464.3,131.5 L465.5,131.4 L466.7,131.9 L467.9,131.8 L469.1,132.5 L470.3,132.2 L471.5,132.2 L472.7,132.9 L473.9,132.9 L475.1,132.2 L476.3,132.5 L477.5,132.5 L478.7,133.0 L479.9,132.9 L481.1,133.0 L482.3,133.2 L483.5,134.3 L484.7,133.8 L485.9,134.3 L487.1,134.1 L488.3,134.7 L489.5,134.5 L490.7,134.3 L491.9,134.8 L493.1,135.4 L494.3,135.3 L495.5,135.5 L496.7,135.1 L497.9,136.1 L499.1,136.2 L500.3,136.0 L501.5,136.8 L502.7,136.5 L503.9,136.3 L505.1,137.0 L506.3,137.5 L507.5,137.5 L508.7,137.6 L509.9,138.2 L511.1,138.5 L512.3,138.7 L513.5,138.7 L514.7,138.8 L515.9,139.1 L517.1,139.4 L518.3,139.8 L519.5,139.5 L520.7,139.4 L521.9,139.9 L523.1,140.1 L524.3,140.3 L525.5,141.0 L526.7,140.7 L527.9,141.2 L529.1,141.3 L530.3,141.5 L531.5,141.9 L532.7,142.3 L533.9,142.7 L535.1,142.9 L536.3,142.9 L537.5,143.3 L538.7,143.3 L539.9,144.2 L541.1,144.0 L542.3,143.7 L543.5,144.6 L544.7,144.5 L545.9,144.9 L547.1,145.3 L548.3,144.8 L549.5,145.8 L550.7,145.5 L551.9,146.4 L553.1,146.7 L554.3,146.1 L555.5,146.8 L556.7,147.4 L557.9,147.3 L559.1,147.4 L560.3,147.3 L561.5,148.2 L562.7,148.3 L563.9,147.8 L565.1,148.2 L566.3,149.1 L567.5,149.1 L568.7,149.3 L569.9,149.2 L571.1,149.5 L572.3,149.4 L573.5,149.7 L574.7,150.3 L575.9,150.3 L577.1,150.5 L578.3,150.7 L579.5,151.3 L580.7,151.2 L581.9,151.5 L583.1,151.5 L584.3,152.7 L585.5,152.1 L586.7,153.3 L587.9,152.7 L589.1,153.2 L590.3,153.5 L591.5,153.2 L592.7,153.9 L593.9,154.3 L595.1,154.1 L596.3,154.3 L597.5,154.8 L598.7,155.3 L599.9,155.4 L601.1,155.6 L602.3,155.5 L603.5,156.2 L604.7,156.2 L605.9,156.3 L607.1,156.6 L608.3,156.9 L609.5,156.6 L610.7,156.7 L611.9,157.2 L613.1,157.5 L614.3,157.9 L615.5,158.0 L616.7,158.3 L617.9,158.0 L619.1,158.2 L620.3,158.9 L621.5,158.1 L622.7,158.9 L623.9,158.5 L625.1,158.7 L626.3,158.7 L627.5,159.7 L628.7,159.6 L629.9,159.2 L631.1,160.3 L632.3,160.4 L633.5,160.0 L634.7,160.2 L635.9,159.9 L637.1,160.2 L638.3,160.6 L638.5,160.1 L638.5,172.2 L638.3,172.2 L637.1,172.3 L635.9,172.0 L634.7,171.9 L633.5,172.1 L632.3,171.9 L631.1,172.5 L629.9,172.2 L628.7,172.0 L627.5,171.5 L626.3,171.7 L625.1,171.7 L623.9,171.9 L622.7,171.9 L621.5,172.2 L620.3,172.2 L619.1,171.7 L617.9,171.6 L616.7,171.8 L615.5,172.1 L614.3,171.4 L613.1,171.6 L611.9,171.8 L610.7,171.1 L609.5,171.2 L608.3,171.9 L607.1,171.7 L605.9,171.3 L604.7,170.8 L603.5,171.6 L602.3,171.4 L601.1,171.4 L599.9,171.6 L598.7,171.4 L597.5,170.9 L596.3,170.5 L595.1,170.6 L593.9,170.8 L592.7,170.7 L591.5,170.3 L590.3,170.2 L589.1,170.6 L587.9,170.5 L586.7,170.2 L585.5,170.8 L584.3,170.3 L583.1,169.6 L581.9,169.9 L580.7,170.2 L579.5,169.6 L578.3,170.0 L577.1,169.1 L575.9,169.4 L574.7,169.9 L573.5,169.5 L572.3,169.6 L571.1,169.0 L569.9,169.2 L568.7,169.2 L567.5,168.8 L566.3,169.1 L565.1,168.9 L563.9,169.3 L562.7,168.8 L561.5,168.5 L560.3,168.1 L559.1,168.0 L557.9,168.6 L556.7,167.8 L555.5,167.7 L554.3,167.7 L553.1,168.0 L551.9,168.2 L550.7,167.9 L549.5,168.1 L548.3,167.1 L547.1,167.0 L545.9,167.7 L544.7,167.2 L543.5,167.5 L542.3,167.0 L541.1,166.7 L539.9,166.7 L538.7,166.5 L537.5,167.2 L536.3,166.8 L535.1,166.5 L533.9,166.5 L532.7,166.3 L531.5,165.8 L530.3,166.7 L529.1,166.2 L527.9,166.6 L526.7,165.9 L525.5,166.0 L524.3,165.5 L523.1,165.2 L521.9,166.1 L520.7,165.9 L519.5,165.2 L518.3,165.8 L517.1,165.6 L515.9,164.9 L514.7,165.1 L513.5,165.4 L512.3,164.8 L511.1,165.2 L509.9,164.4 L508.7,164.4 L507.5,164.7 L506.3,164.1 L505.1,164.1 L503.9,164.6 L502.7,164.1 L501.5,164.3 L500.3,163.6 L499.1,163.4 L497.9,163.6 L496.7,163.3 L495.5,164.1 L494.3,163.2 L493.1,163.4 L491.9,162.9 L490.7,163.2 L489.5,163.0 L488.3,162.9 L487.1,162.5 L485.9,162.5 L484.7,163.2 L483.5,162.6 L482.3,162.4 L481.1,162.2 L479.9,162.3 L478.7,162.2 L477.5,161.9 L476.3,162.5 L475.1,162.1 L473.9,161.8 L472.7,162.3 L471.5,161.6 L470.3,161.7 L469.1,162.3 L467.9,161.4 L466.7,161.7 L465.5,162.0 L464.3,161.9 L463.1,161.2 L461.9,161.3 L460.7,161.6 L459.5,161.2 L458.3,161.8 L457.1,160.9 L455.9,161.6 L454.7,161.0 L453.5,160.6 L452.3,160.8 L451.1,160.4 L449.9,160.9 L448.7,160.4 L447.5,161.0 L446.3,160.6 L445.1,160.2 L443.9,160.0 L442.7,160.4 L441.5,159.8 L440.3,160.5 L439.1,159.6 L437.9,160.0 L436.7,159.9 L435.5,159.6 L434.3,160.0 L433.1,159.6 L431.9,159.8 L430.7,159.7 L429.5,159.3 L428.3,159.4 L427.1,159.0 L425.9,159.0 L424.7,159.7 L423.5,159.1 L422.3,159.4 L421.1,158.8 L419.9,159.2 L418.7,158.9 L417.5,159.0 L416.3,158.8 L415.1,158.5 L413.9,158.7 L412.7,158.6 L411.5,158.4 L410.3,159.0 L409.1,158.5 L407.9,158.6 L406.7,159.1 L405.5,158.9 L404.3,159.0 L403.1,158.9 L401.9,158.1 L400.7,158.2 L399.5,157.9 L398.3,158.5 L397.1,158.5 L395.9,158.1 L394.7,158.1 L393.5,158.4 L392.3,158.4 L391.1,157.8 L389.9,158.4 L388.7,157.9 L387.5,158.1 L386.3,157.6 L385.1,157.5 L383.9,158.3 L382.7,158.1 L381.5,158.0 L380.3,157.2 L379.1,157.2 L377.9,157.3 L376.7,157.3 L375.5,157.4 L374.3,157.4 L373.1,157.0 L371.9,157.3 L370.7,157.6 L369.5,157.1 L368.3,157.8 L367.1,157.4 L365.9,157.6 L364.7,157.0 L363.5,157.2 L362.3,157.4 L361.1,157.1 L359.9,156.6 L358.7,157.5 L357.5,157.4 L356.3,156.9 L355.1,156.6 L353.9,157.4 L352.7,157.1 L351.5,156.5 L350.3,156.7 L349.1,156.5 L347.9,157.2 L346.7,156.6 L345.5,157.3 L344.3,157.1 L343.1,156.4 L341.9,157.0 L340.7,156.6 L339.5,157.0 L338.3,157.1 L337.1,156.5 L335.9,156.2 L334.7,157.2 L333.5,156.6 L332.3,157.1 L331.1,156.8 L329.9,156.8 L328.7,156.9 L327.5,156.7 L326.3,156.5 L325.1,156.0 L323.9,156.7 L322.7,156.4 L321.5,156.5 L320.3,156.9 L319.1,156.0 L317.9,156.7 L316.7,155.9 L315.5,156.6 L314.3,156.7 L313.1,156.1 L311.9,156.4 L310.7,156.9 L309.5,156.5 L308.3,156.4 L307.1,156.0 L305.9,155.8 L304.7,156.1 L303.5,156.2 L302.3,155.9 L301.1,156.0 L299.9,155.8 L298.7,156.5 L297.5,156.4 L296.3,155.9 L295.1,155.9 L293.9,156.2 L292.7,156.1 L291.5,156.6 L290.3,156.0 L289.1,155.9 L287.9,156.5 L286.7,155.7 L285.5,156.2 L284.3,155.9 L283.1,156.4 L281.9,156.1 L280.7,156.3 L279.5,155.7 L278.3,156.2 L277.1,156.1 L275.9,156.0 L274.7,156.3 L273.5,156.4 L272.3,155.6 L271.1,155.8 L269.9,155.8 L268.7,155.6 L267.5,155.5 L266.3,155.7 L265.1,155.6 L263.9,156.2 L262.7,155.9 L261.5,155.5 L260.3,155.7 L259.1,155.9 L257.9,155.7 L256.7,155.5 L255.5,155.4 L254.3,155.3 L253.1,156.4 L251.9,156.1 L250.7,155.4 L249.5,156.1 L248.3,156.4 L247.1,155.9 L245.9,155.4 L244.7,155.8 L243.5,155.7 L242.3,155.4 L241.1,155.8 L239.9,155.2 L238.7,156.2 L237.5,155.9 L236.3,155.9 L235.1,156.2 L233.9,155.9 L232.7,155.5 L231.5,155.4 L230.3,155.3 L229.1,155.2 L227.9,156.0 L226.7,156.1 L225.5,155.5 L224.3,155.3 L223.1,155.8 L221.9,156.1 L220.7,156.1 L219.5,155.3 L218.3,156.0 L217.1,156.0 L215.9,155.9 L214.7,155.4 L213.5,155.3 L212.3,156.0 L211.1,155.4 L209.9,155.5 L208.7,155.7 L207.5,155.4 L206.3,155.9 L205.1,155.3 L203.9,155.1 L202.7,155.6 L201.5,155.7 L200.3,155.9 L199.1,155.8 L197.9,156.0 L196.7,156.0 L195.5,155.5 L194.3,155.5 L193.1,155.1 L191.9,155.3 L190.7,155.6 L189.5,155.0 L188.3,155.7 L187.1,155.1 L185.9,155.4 L184.7,156.0 L183.5,155.0 L182.3,155.0 L181.1,155.4 L179.9,155.1 L178.7,155.7 L177.5,154.9 L176.3,155.8 L175.1,155.8 L173.9,155.7 L172.7,155.3 L171.5,155.2 L170.3,155.6 L169.1,155.4 L167.9,155.3 L166.7,155.2 L165.5,155.3 L164.3,155.5 L163.1,155.7 L161.9,155.8 L160.7,155.0 L159.5,155.1 L158.3,155.3 L157.1,155.4 L155.9,155.1 L154.7,155.0 L153.5,154.8 L152.3,155.1 L151.1,155.2 L149.9,155.8 L148.7,155.7 L147.5,155.7 L146.3,155.8 L145.1,155.8 L143.9,155.4 L142.7,155.6 L141.5,154.7 L140.3,155.4 L139.1,155.3 L137.9,155.0 L136.7,155.3 L135.5,155.7 L134.3,155.2 L133.1,155.3 L131.9,154.9 L130.7,155.0 L129.5,155.6Z" fill="#0000ff"/>
<path d="M838.7,124.0 L839.9,123.8 L841.1,123.3 L842.3,123.5 L843.5,123.9 L844.7,123.3 L845.9,123.6 L847.1,123.4 L848.3,123.6 L849.5,123.4 L850.7,123.4 L851.9,123.6 L853.1,123.9 L854.3,123.8 L855.5,123.0 L856.7,123.4 L857.9,123.9 L859.1,123.1 L860.3,123.8 L861.5,123.9 L862.7,123.5 L863.9,123.8 L865.1,123.5 L866.3,123.4 L867.5,123.8 L868.7,123.4 L869.9,123.9 L871.1,123.5 L872.3,123.4 L873.5,124.0 L874.7,123.6 L875.9,124.0 L877.1,123.6 L878.3,123.1 L879.5,123.5 L880.7,123.3 L881.9,123.2 L883.1,123.9 L884.3,123.0 L885.5,123.3 L886.7,124.0 L887.9,123.2 L889.1,123.6 L890.3,123.9 L891.5,123.0 L892.7,123.5 L893.9,123.2 L895.1,123.9 L896.3,123.2 L897.5,124.0 L898.7,123.8 L899.9,123.7 L901.1,124.1 L902.3,123.4 L903.5,123.9 L904.7,123.8 L905.9,123.3 L907.1,123.6 L908.3,123.1 L909.5,123.4 L910.7,123.1 L911.9,123.5 L913.1,123.1 L914.3,123.2 L915.5,123.9 L916.7,123.3 L917.9,123.7 L919.1,123.3 L920.3,123.4 L921.5,123.2 L922.7,124.0 L923.9,123.7 L925.1,123.3 L926.3,123.1 L927.5,123.3 L928.7,124.1 L929.9,123.5 L931.1,124.0 L932.3,123.5 L933.5,123.3 L934.7,124.0 L935.9,123.1 L937.1,123.4 L938.3,123.9 L939.5,123.9 L940.7,123.7 L941.9,123.2 L943.1,123.5 L944.3,124.0 L945.5,124.1 L946.7,124.0 L947.9,123.3 L949.1,124.0 L950.3,123.6 L951.5,123.9 L952.7,123.4 L953.9,123.8 L955.1,124.0 L956.3,123.2 L957.5,123.6 L958.7,123.4 L959.9,123.3 L961.1,123.2 L962.3,124.2 L963.5,123.8 L964.7,124.0 L965.9,123.7 L967.1,123.2 L968.3,123.3 L969.5,124.2 L970.7,124.0 L971.9,123.3 L973.1,123.5 L974.3,123.8 L975.5,123.7 L976.7,124.1 L977.9,123.3 L979.1,123.8 L980.3,123.3 L981.5,123.6 L982.7,124.2 L983.9,123.9 L985.1,124.0 L986.3,123.3 L987.5,123.6 L988.7,124.2 L989.9,124.1 L991.1,123.9 L992.3,123.8 L993.5,123.6 L994.7,123.9 L995.9,123.9 L997.1,124.3 L998.3,123.7 L999.5,123.9 L1000.7,124.3 L1001.9,123.8 L1003.1,123.2 L1004.3,124.3 L1005.5,124.2 L1006.7,123.6 L1007.9,124.0 L1009.1,124.0 L1010.3,123.8 L1011.5,124.1 L1012.7,123.7 L1013.9,123.8 L1015.1,123.3 L1016.3,123.3 L1017.5,124.3 L1018.7,123.8 L1019.9,123.5 L1021.1,123.4 L1022.3,123.5 L1023.5,123.7 L1024.7,123.7 L1025.9,124.0 L1027.1,124.1 L1028.3,123.6 L1029.5,123.5 L1030.7,123.4 L1031.9,123.7 L1033.1,124.1 L1034.3,123.6 L1035.5,123.7 L1036.7,123.9 L1037.9,123.8 L1039.1,124.1 L1040.3,123.9 L1041.5,124.1 L1042.7,124.5 L1043.9,124.2 L1045.1,124.2 L1046.3,123.5 L1047.5,124.1 L1048.7,124.2 L1049.9,124.3 L1051.1,124.4 L1052.3,124.2 L1053.5,124.5 L1054.7,124.6 L1055.9,123.7 L1057.1,124.2 L1058.3,124.2 L1059.5,124.1 L1060.7,124.4 L1061.9,124.5 L1063.1,124.7 L1064.3,124.4 L1065.5,124.4 L1066.7,124.0 L1067.9,124.2 L1069.1,123.8 L1070.3,124.5 L1071.5,123.8 L1072.7,124.2 L1073.9,124.8 L1075.1,124.7 L1076.3,124.3 L1077.5,123.8 L1078.7,124.6 L1079.9,124.1 L1081.1,124.5 L1082.3,124.0 L1083.5,124.9 L1084.7,124.5 L1085.9,124.1 L1087.1,124.8 L1088.3,124.8 L1089.5,125.1 L1090.7,125.0 L1091.9,124.9 L1093.1,124.4 L1094.3,125.0 L1095.5,124.8 L1096.7,125.0 L1097.9,124.6 L1099.1,124.3 L1100.3,124.6 L1101.5,125.1 L1102.7,124.6 L1103.9,124.3 L1105.1,124.8 L1106.3,125.4 L1107.5,124.7 L1108.7,124.6 L1109.9,125.3 L1111.1,125.6 L1112.3,125.6 L1113.5,125.3 L1114.7,125.0 L1115.9,125.3 L1117.1,125.1 L1118.3,126.0 L1119.5,125.9 L1120.7,125.6 L1121.9,125.7 L1123.1,126.1 L1124.3,125.9 L1125.5,126.4 L1126.7,126.8 L1127.9,126.4 L1129.1,126.9 L1130.3,126.4 L1131.5,126.8 L1132.7,126.7 L1133.9,126.7 L1135.1,127.1 L1136.3,127.0 L1137.5,127.5 L1138.7,126.6 L1139.9,127.1 L1141.1,126.7 L1142.3,127.8 L1143.5,127.2 L1144.7,127.1 L1145.9,127.6 L1147.1,128.0 L1148.3,127.9 L1149.5,128.0 L1150.7,127.4 L1151.9,128.2 L1153.1,127.4 L1154.3,127.9 L1155.5,127.9 L1156.7,127.9 L1157.9,128.0 L1159.1,127.9 L1160.3,128.0 L1161.5,128.4 L1162.7,128.0 L1163.9,128.6 L1165.1,128.1 L1166.3,128.1 L1167.5,128.2 L1168.7,128.8 L1169.9,128.3 L1171.1,128.2 L1172.3,128.8 L1173.5,129.1 L1174.7,128.9 L1175.9,128.5 L1177.1,129.5 L1178.3,129.7 L1179.5,129.3 L1180.7,129.2 L1181.9,129.1 L1183.1,129.7 L1184.3,129.1 L1185.5,130.0 L1186.7,129.5 L1187.9,130.3 L1189.1,130.5 L1190.3,130.5 L1191.5,130.7 L1192.7,130.3 L1193.9,130.3 L1195.1,130.9 L1196.3,130.1 L1197.5,130.9 L1198.7,131.2 L1199.9,131.3 L1201.1,130.8 L1202.3,130.7 L1203.5,131.7 L1204.7,132.0 L1205.9,131.3 L1207.1,132.0 L1208.3,131.3 L1209.5,132.0 L1210.7,132.0 L1211.9,132.5 L1213.1,132.1 L1214.3,132.7 L1215.5,133.0 L1216.7,132.5 L1217.9,133.5 L1219.1,133.0 L1220.3,133.9 L1221.5,133.4 L1222.7,133.8 L1223.9,133.5 L1225.1,134.5 L1226.3,134.1 L1227.5,134.4 L1228.7,134.0 L1229.9,134.1 L1231.1,134.6 L1232.3,135.2 L1233.5,135.3 L1234.7,135.5 L1235.9,135.4 L1237.1,135.8 L1238.3,135.9 L1239.5,135.5 L1240.7,135.7 L1241.9,136.2 L1243.1,135.6 L1244.3,136.6 L1245.5,136.3 L1246.7,136.9 L1247.9,136.3 L1249.1,136.4 L1250.3,137.2 L1251.5,136.8 L1252.7,136.9 L1253.9,137.6 L1255.1,137.7 L1256.3,137.6 L1257.5,137.3 L1258.7,138.3 L1259.9,137.8 L1261.1,138.1 L1262.3,138.4 L1263.5,138.4 L1264.7,138.2 L1265.9,139.1 L1267.1,138.5 L1268.3,139.2 L1269.5,138.9 L1270.7,138.9 L1271.9,139.8 L1273.1,139.2 L1274.3,139.2 L1275.5,140.1 L1276.7,140.6 L1277.9,140.6 L1279.1,139.8 L1280.3,141.0 L1281.5,140.2 L1282.7,141.2 L1283.9,140.7 L1285.1,141.6 L1286.3,141.6 L1287.5,141.2 L1288.7,142.0 L1289.9,141.9 L1291.1,141.4 L1292.3,141.8 L1293.5,141.8 L1294.7,141.8 L1295.9,143.1 L1297.1,143.0 L1298.3,142.5 L1299.5,142.8 L1300.7,143.7 L1301.9,143.4 L1303.1,143.8 L1304.3,143.8 L1305.5,144.3 L1306.7,144.6 L1307.9,143.7 L1309.1,144.6 L1310.3,144.1 L1311.5,145.1 L1312.7,144.9 L1313.9,145.5 L1315.1,145.3 L1316.3,145.8 L1317.5,145.4 L1318.7,146.1 L1319.9,145.7 L1321.1,146.1 L1322.3,146.7 L1323.5,146.6 L1324.7,146.6 L1325.9,146.3 L1327.1,147.2 L1328.3,147.5 L1329.5,146.8 L1330.7,147.1 L1331.9,147.4 L1333.1,148.1 L1334.3,148.4 L1335.5,148.5 L1336.7,148.9 L1337.9,149.1 L1339.1,148.8 L1340.3,149.1 L1341.5,149.1 L1342.7,149.5 L1343.9,150.0 L1344.3,149.3 L1344.3,155.6 L1343.9,155.4 L1342.7,155.3 L1341.5,155.2 L1340.3,155.4 L1339.1,155.1 L1337.9,154.7 L1336.7,154.2 L1335.5,153.9 L1334.3,153.8 L1333.1,154.2 L1331.9,153.4 L1330.7,153.2 L1329.5,153.0 L1328.3,152.6 L1327.1,153.3 L1325.9,152.1 L1324.7,152.5 L1323.5,152.7 L1322.3,151.8 L1321.1,152.0 L1319.9,151.6 L1318.7,151.3 L1317.5,151.1 L1316.3,150.8 L1315.1,151.5 L1313.9,151.3 L1312.7,151.2 L1311.5,150.1 L1310.3,150.7 L1309.1,150.1 L1307.9,150.4 L1306.7,150.1 L1305.5,149.7 L1304.3,150.3 L1303.1,149.1 L1301.9,149.7 L1300.7,149.7 L1299.5,149.2 L1298.3,149.1 L1297.1,149.4 L1295.9,148.5 L1294.7,148.8 L1293.5,148.7 L1292.3,148.2 L1291.1,148.4 L1289.9,147.9 L1288.7,147.9 L1287.5,147.9 L1286.3,147.8 L1285.1,147.3 L1283.9,147.5 L1282.7,147.2 L1281.5,146.7 L1280.3,147.0 L1279.1,146.5 L1277.9,147.0 L1276.7,146.4 L1275.5,146.5 L1274.3,146.2 L1273.1,146.0 L1271.9,145.6 L1270.7,145.3 L1269.5,146.0 L1268.3,145.5 L1267.1,145.3 L1265.9,145.2 L1264.7,145.4 L1263.5,144.6 L1262.3,144.4 L1261.1,144.9 L1259.9,144.4 L1258.7,144.5 L1257.5,144.5 L1256.3,144.4 L1255.1,144.3 L1253.9,143.2 L1252.7,143.5 L1251.5,143.8 L1250.3,143.7 L1249.1,142.8 L1247.9,142.7 L1246.7,142.6 L1245.5,142.3 L1244.3,142.5 L1243.1,142.8 L1241.9,142.4 L1240.7,142.2 L1239.5,141.6 L1238.3,141.8 L1237.1,142.3 L1235.9,141.9 L1234.7,141.5 L1233.5,141.3 L1232.3,141.6 L1231.1,141.4 L1229.9,140.6 L1228.7,141.0 L1227.5,140.5 L1226.3,140.5 L1225.1,140.0 L1223.9,140.0 L1222.7,139.8 L1221.5,139.7 L1220.3,139.2 L1219.1,139.2 L1217.9,139.5 L1216.7,138.7 L1215.5,138.7 L1214.3,139.1 L1213.1,138.5 L1211.9,138.4 L1210.7,138.2 L1209.5,138.7 L1208.3,137.7 L1207.1,138.2 L1205.9,138.3 L1204.7,137.4 L1203.5,137.5 L1202.3,137.8 L1201.1,137.5 L1199.9,137.1 L1198.7,136.6 L1197.5,137.0 L1196.3,136.8 L1195.1,137.0 L1193.9,136.5 L1192.7,136.5 L1191.5,136.7 L1190.3,136.7 L1189.1,136.1 L1187.9,136.1 L1186.7,136.2 L1185.5,136.5 L1184.3,135.6 L1183.1,136.4 L1181.9,136.0 L1180.7,135.5 L1179.5,135.8 L1178.3,135.3 L1177.1,135.0 L1175.9,135.7 L1174.7,135.2 L1173.5,135.3 L1172.3,135.2 L1171.1,135.5 L1169.9,135.3 L1168.7,134.5 L1167.5,135.0 L1166.3,134.8 L1165.1,134.8 L1163.9,135.2 L1162.7,134.6 L1161.5,134.7 L1160.3,135.1 L1159.1,134.5 L1157.9,134.5 L1156.7,134.5 L1155.5,134.8 L1154.3,134.6 L1153.1,134.7 L1151.9,134.2 L1150.7,133.8 L1149.5,134.5 L1148.3,134.3 L1147.1,134.5 L1145.9,134.5 L1144.7,133.7 L1143.5,133.8 L1142.3,133.6 L1141.1,134.3 L1139.9,133.5 L1138.7,133.4 L1137.5,134.1 L1136.3,133.9 L1135.1,133.3 L1133.9,133.9 L1132.7,133.9 L1131.5,133.6 L1130.3,133.0 L1129.1,133.7 L1127.9,133.3 L1126.7,133.5 L1125.5,133.9 L1124.3,133.6 L1123.1,133.6 L1121.9,132.8 L1120.7,132.9 L1119.5,133.1 L1118.3,132.4 L1117.1,133.5 L1115.9,132.6 L1114.7,132.6 L1113.5,132.6 L1112.3,132.5 L1111.1,133.1 L1109.9,132.7 L1108.7,132.6 L1107.5,132.5 L1106.3,132.0 L1105.1,132.3 L1103.9,132.9 L1102.7,132.7 L1101.5,132.8 L1100.3,132.1 L1099.1,132.0 L1097.9,131.8 L1096.7,132.3 L1095.5,132.1 L1094.3,132.2 L1093.1,132.2 L1091.9,132.3 L1090.7,132.0 L1089.5,132.5 L1088.3,131.8 L1087.1,132.6 L1085.9,132.1 L1084.7,131.6 L1083.5,131.8 L1082.3,132.0 L1081.1,131.9 L1079.9,132.0 L1078.7,131.7 L1077.5,131.7 L1076.3,132.2 L1075.1,131.7 L1073.9,132.1 L1072.7,132.2 L1071.5,131.9 L1070.3,131.8 L1069.1,132.3 L1067.9,131.7 L1066.7,132.2 L1065.5,131.2 L1064.3,131.6 L1063.1,131.9 L1061.9,131.2 L1060.7,132.1 L1059.5,131.2 L1058.3,131.7 L1057.1,131.3 L1055.9,132.1 L1054.7,131.6 L1053.5,131.9 L1052.3,131.5 L1051.1,131.7 L1049.9,131.7 L1048.7,131.3 L1047.5,131.2 L1046.3,131.8 L1045.1,131.1 L1043.9,131.9 L1042.7,131.1 L1041.5,131.0 L1040.3,131.0 L1039.1,131.7 L1037.9,131.9 L1036.7,131.3 L1035.5,131.5 L1034.3,131.1 L1033.1,131.8 L1031.9,131.5 L1030.7,130.9 L1029.5,130.8 L1028.3,131.5 L1027.1,130.8 L1025.9,131.6 L1024.7,131.0 L1023.5,130.9 L1022.3,131.3 L1021.1,131.0 L1019.9,131.3 L1018.7,130.8 L1017.5,131.6 L1016.3,131.0 L1015.1,131.5 L1013.9,130.8 L1012.7,131.5 L1011.5,131.7 L1010.3,131.0 L1009.1,130.6 L1007.9,131.0 L1006.7,131.3 L1005.5,130.8 L1004.3,131.1 L1003.1,130.6 L1001.9,131.0 L1000.7,131.3 L999.5,131.0 L998.3,131.2 L997.1,130.6 L995.9,131.4 L994.7,130.6 L993.5,131.5 L992.3,131.5 L991.1,131.5 L989.9,131.0 L988.7,130.7 L987.5,130.8 L986.3,131.2 L985.1,131.0 L983.9,131.4 L982.7,130.5 L981.5,130.9 L980.3,131.3 L979.1,131.0 L977.9,131.0 L976.7,130.5 L975.5,130.5 L974.3,130.6 L973.1,131.3 L971.9,131.3 L970.7,130.6 L969.5,131.3 L968.3,130.3 L967.1,131.0 L965.9,131.4 L964.7,130.7 L963.5,131.3 L962.3,131.0 L961.1,130.3 L959.9,130.6 L958.7,130.8 L957.5,130.5 L956.3,131.1 L955.1,130.4 L953.9,131.1 L952.7,130.6 L951.5,130.3 L950.3,130.8 L949.1,130.3 L947.9,130.8 L946.7,131.1 L945.5,130.9 L944.3,130.7 L943.1,130.2 L941.9,130.8 L940.7,130.3 L939.5,130.9 L938.3,130.3 L937.1,130.8 L935.9,130.6 L934.7,130.6 L933.5,130.9 L932.3,130.3 L931.1,130.3 L929.9,131.2 L928.7,130.5 L927.5,131.1 L926.3,131.1 L925.1,130.7 L923.9,130.3 L922.7,130.2 L921.5,131.1 L920.3,130.2 L919.1,130.6 L917.9,130.7 L916.7,130.2 L915.5,130.6 L914.3,130.3 L913.1,130.7 L911.9,130.6 L910.7,130.5 L909.5,130.3 L908.3,130.5 L907.1,130.3 L905.9,130.2 L904.7,130.3 L903.5,131.0 L902.3,130.6 L901.1,131.0 L899.9,130.0 L898.7,131.1 L897.5,130.6 L896.3,130.9 L895.1,130.6 L893.9,130.8 L892.7,130.3 L891.5,130.8 L890.3,130.2 L889.1,130.3 L887.9,130.0 L886.7,130.4 L885.5,130.5 L884.3,130.3 L883.1,131.0 L881.9,130.1 L880.7,130.6 L879.5,130.2 L878.3,130.6 L877.1,130.8 L875.9,130.7 L874.7,130.0 L873.5,130.2 L872.3,130.6 L871.1,131.0 L869.9,130.0 L868.7,130.6 L867.5,130.7 L866.3,130.8 L865.1,130.3 L863.9,130.8 L862.7,130.4 L861.5,130.9 L860.3,129.9 L859.1,130.9 L857.9,130.3 L856.7,130.3 L855.5,130.0 L854.3,130.1 L853.1,130.7 L851.9,130.6 L850.7,130.0 L849.5,130.2 L848.3,130.0 L847.1,130.1 L845.9,130.1 L844.7,130.2 L843.5,130.9 L842.3,130.9 L841.1,130.7 L839.9,130.3 L838.7,130.3Z" fill="#000"/>
<path d="M838.7,162.0 L839.9,161.9 L841.1,162.1 L842.3,162.2 L843.5,162.7 L844.7,162.2 L845.9,162.0 L847.1,162.0 L848.3,162.8 L849.5,162.1 L850.7,162.5 L851.9,162.7 L853.1,161.8 L854.3,162.1 L855.5,162.1 L856.7,162.7 L857.9,162.0 L859.1,161.8 L860.3,161.9 L861.5,162.1 L862.7,162.0 L863.9,162.0 L865.1,162.2 L866.3,162.4 L867.5,162.0 L868.7,162.0 L869.9,161.9 L871.1,162.5 L872.3,161.8 L873.5,162.3 L874.7,161.8 L875.9,162.7 L877.1,161.8 L878.3,162.0 L879.5,162.6 L880.7,161.9 L881.9,162.6 L883.1,162.6 L884.3,162.3 L885.5,162.6 L886.7,162.3 L887.9,161.8 L889.1,162.1 L890.3,162.1 L891.5,162.4 L892.7,162.0 L893.9,162.0 L895.1,162.1 L896.3,161.8 L897.5,161.9 L898.7,162.4 L899.9,162.7 L901.1,162.1 L902.3,161.9 L903.5,162.5 L904.7,162.2 L905.9,161.9 L907.1,161.9 L908.3,162.8 L909.5,162.3 L910.7,162.8 L911.9,162.7 L913.1,161.9 L914.3,162.4 L915.5,162.1 L916.7,162.3 L917.9,162.4 L919.1,162.6 L920.3,162.4 L921.5,161.9 L922.7,162.1 L923.9,162.5 L925.1,162.7 L926.3,162.5 L927.5,162.0 L928.7,162.3 L929.9,162.1 L931.1,161.9 L932.3,162.7 L933.5,162.0 L934.7,162.7 L935.9,161.9 L937.1,162.6 L938.3,162.5 L939.5,161.7 L940.7,162.4 L941.9,162.5 L943.1,161.8 L944.3,162.1 L945.5,161.8 L946.7,162.3 L947.9,162.2 L949.1,161.7 L950.3,162.2 L951.5,161.7 L952.7,162.6 L953.9,161.9 L955.1,162.6 L956.3,162.2 L957.5,162.8 L958.7,162.6 L959.9,161.7 L961.1,162.3 L962.3,161.9 L963.5,162.5 L964.7,162.4 L965.9,162.6 L967.1,162.1 L968.3,161.8 L969.5,162.2 L970.7,162.3 L971.9,161.7 L973.1,161.8 L974.3,162.0 L975.5,162.7 L976.7,162.0 L977.9,162.2 L979.1,161.7 L980.3,162.3 L981.5,162.0 L982.7,162.0 L983.9,162.3 L985.1,162.1 L986.3,162.0 L987.5,161.7 L988.7,162.2 L989.9,162.3 L991.1,161.6 L992.3,162.6 L993.5,161.8 L994.7,162.0 L995.9,162.1 L997.1,162.2 L998.3,161.9 L999.5,161.7 L1000.7,161.9 L1001.9,161.9 L1003.1,162.7 L1004.3,162.3 L1005.5,162.5 L1006.7,161.6 L1007.9,161.7 L1009.1,162.5 L1010.3,162.0 L1011.5,162.0 L1012.7,162.6 L1013.9,162.2 L1015.1,161.8 L1016.3,162.0 L1017.5,162.4 L1018.7,161.8 L1019.9,162.3 L1021.1,162.1 L1022.3,162.2 L1023.5,161.6 L1024.7,161.9 L1025.9,161.8 L1027.1,161.9 L1028.3,162.2 L1029.5,161.6 L1030.7,161.9 L1031.9,161.9 L1033.1,162.3 L1034.3,162.4 L1035.5,162.0 L1036.7,161.7 L1037.9,161.7 L1039.1,162.2 L1040.3,162.5 L1041.5,162.0 L1042.7,161.6 L1043.9,162.4 L1045.1,161.8 L1046.3,162.4 L1047.5,162.2 L1048.7,162.5 L1049.9,162.3 L1051.1,162.2 L1052.3,161.5 L1053.5,161.5 L1054.7,162.4 L1055.9,162.2 L1057.1,161.5 L1058.3,162.3 L1059.5,162.2 L1060.7,162.1 L1061.9,162.4 L1063.1,162.3 L1064.3,162.1 L1065.5,162.1 L1066.7,161.5 L1067.9,162.2 L1069.1,162.3 L1070.3,161.5 L1071.5,162.0 L1072.7,161.6 L1073.9,161.8 L1075.1,161.7 L1076.3,162.2 L1077.5,162.4 L1078.7,161.7 L1079.9,162.0 L1081.1,161.9 L1082.3,161.8 L1083.5,161.7 L1084.7,162.2 L1085.9,162.1 L1087.1,161.5 L1088.3,161.9 L1089.5,162.2 L1090.7,161.8 L1091.9,162.2 L1093.1,161.7 L1094.3,162.5 L1095.5,161.6 L1096.7,161.9 L1097.9,162.1 L1099.1,161.5 L1100.3,162.2 L1101.5,162.2 L1102.7,162.4 L1103.9,161.9 L1105.1,161.7 L1106.3,161.8 L1107.5,162.0 L1108.7,161.6 L1109.9,162.4 L1111.1,162.2 L1112.3,161.8 L1113.5,161.4 L1114.7,161.8 L1115.9,161.7 L1117.1,161.6 L1118.3,162.1 L1119.5,161.5 L1120.7,161.7 L1121.9,162.1 L1123.1,162.1 L1124.3,161.6 L1125.5,162.1 L1126.7,162.3 L1127.9,161.5 L1129.1,161.9 L1130.3,161.9 L1131.5,161.8 L1132.7,161.5 L1133.9,162.4 L1135.1,162.1 L1136.3,162.4 L1137.5,162.0 L1138.7,161.9 L1139.9,161.6 L1141.1,161.8 L1142.3,161.9 L1143.5,162.1 L1144.7,161.9 L1145.9,162.2 L1147.1,161.6 L1148.3,161.6 L1149.5,161.6 L1150.7,162.3 L1151.9,161.7 L1153.1,161.7 L1154.3,161.9 L1155.5,161.5 L1156.7,161.5 L1157.9,161.7 L1159.1,161.6 L1160.3,161.7 L1161.5,161.5 L1162.7,162.3 L1163.9,161.7 L1165.1,161.7 L1166.3,161.8 L1167.5,162.1 L1168.7,162.4 L1169.9,161.8 L1171.1,161.5 L1172.3,162.1 L1173.5,162.2 L1174.7,162.1 L1175.9,162.3 L1177.1,161.6 L1178.3,161.3 L1179.5,161.5 L1180.7,162.0 L1181.9,161.6 L1183.1,162.3 L1184.3,161.4 L1185.5,162.0 L1186.7,162.3 L1187.9,161.6 L1189.1,162.1 L1190.3,162.0 L1191.5,162.2 L1192.7,161.8 L1193.9,161.6 L1195.1,161.4 L1196.3,162.2 L1197.5,161.3 L1198.7,162.1 L1199.9,162.0 L1201.1,161.5 L1202.3,161.8 L1203.5,161.8 L1204.7,161.5 L1205.9,161.9 L1207.1,161.2 L1208.3,161.8 L1209.5,161.1 L1210.7,161.1 L1211.9,161.3 L1213.1,161.9 L1214.3,161.0 L1215.5,161.8 L1216.7,161.2 L1217.9,161.3 L1219.1,161.6 L1220.3,160.9 L1221.5,160.8 L1222.7,160.9 L1223.9,161.1 L1225.1,160.9 L1226.3,160.8 L1227.5,161.2 L1228.7,160.5 L1229.9,160.3 L1231.1,160.5 L1232.3,160.3 L1233.5,161.0 L1234.7,160.3 L1235.9,161.2 L1237.1,160.8 L1238.3,161.2 L1239.5,160.8 L1240.7,160.5 L1241.9,160.5 L1243.1,160.8 L1244.3,160.9 L1245.5,161.0 L1246.7,160.8 L1247.9,160.9 L1249.1,161.0 L1250.3,160.4 L1251.5,160.6 L1252.7,160.7 L1253.9,160.9 L1255.1,160.4 L1256.3,160.9 L1257.5,160.8 L1258.7,160.5 L1259.9,160.3 L1261.1,160.0 L1262.3,160.2 L1263.5,160.0 L1264.7,160.0 L1265.9,160.2 L1267.1,160.2 L1268.3,160.9 L1269.5,160.8 L1270.7,160.9 L1271.9,160.0 L1273.1,160.1 L1274.3,160.2 L1275.5,160.6 L1276.7,160.5 L1277.9,160.7 L1279.1,160.1 L1280.3,159.7 L1281.5,160.5 L1282.7,160.7 L1283.9,160.5 L1285.1,160.3 L1286.3,159.7 L1287.5,159.8 L1288.7,160.1 L1289.9,160.5 L1291.1,160.5 L1292.3,160.4 L1293.5,159.6 L1294.7,159.9 L1295.9,159.3 L1297.1,159.3 L1298.3,159.4 L1299.5,159.7 L1300.7,159.2 L1301.9,159.9 L1303.1,159.8 L1304.3,159.3 L1305.5,159.3 L1306.7,159.5 L1307.9,159.4 L1309.1,159.6 L1310.3,158.5 L1311.5,158.6 L1312.7,158.3 L1313.9,158.2 L1315.1,158.7 L1316.3,158.4 L1317.5,158.7 L1318.7,158.2 L1319.9,158.1 L1321.1,158.8 L1322.3,158.9 L1323.5,158.6 L1324.7,158.2 L1325.9,158.4 L1327.1,158.8 L1328.3,157.8 L1329.5,157.8 L1330.7,158.2 L1331.9,158.6 L1333.1,157.6 L1334.3,158.0 L1335.5,158.5 L1336.7,158.1 L1337.9,157.8 L1339.1,157.5 L1340.3,157.9 L1341.5,157.7 L1342.7,158.1 L1343.9,158.0 L1344.3,157.3 L1344.3,163.6 L1343.9,163.4 L1342.7,164.1 L1341.5,163.7 L1340.3,164.0 L1339.1,164.4 L1337.9,164.8 L1336.7,165.0 L1335.5,165.2 L1334.3,165.1 L1333.1,164.9 L1331.9,165.8 L1330.7,165.2 L1329.5,165.9 L1328.3,165.9 L1327.1,166.4 L1325.9,166.6 L1324.7,166.2 L1323.5,166.8 L1322.3,167.0 L1321.1,166.8 L1319.9,166.6 L1318.7,167.5 L1317.5,167.2 L1316.3,166.7 L1315.1,167.0 L1313.9,167.9 L1312.7,167.2 L1311.5,167.4 L1310.3,167.9 L1309.1,168.0 L1307.9,167.9 L1306.7,168.0 L1305.5,167.3 L1304.3,167.5 L1303.1,168.5 L1301.9,168.3 L1300.7,167.6 L1299.5,167.6 L1298.3,167.9 L1297.1,168.7 L1295.9,168.0 L1294.7,168.5 L1293.5,168.9 L1292.3,168.6 L1291.1,169.0 L1289.9,168.3 L1288.7,168.2 L1287.5,168.1 L1286.3,169.0 L1285.1,168.3 L1283.9,169.3 L1282.7,169.1 L1281.5,168.6 L1280.3,169.3 L1279.1,168.7 L1277.9,169.1 L1276.7,168.7 L1275.5,169.5 L1274.3,169.7 L1273.1,169.7 L1271.9,168.8 L1270.7,169.8 L1269.5,169.5 L1268.3,169.8 L1267.1,169.5 L1265.9,169.7 L1264.7,169.7 L1263.5,170.0 L1262.3,169.2 L1261.1,169.2 L1259.9,169.8 L1258.7,169.6 L1257.5,169.7 L1256.3,169.3 L1255.1,170.2 L1253.9,169.4 L1252.7,170.3 L1251.5,170.3 L1250.3,170.0 L1249.1,169.6 L1247.9,170.3 L1246.7,169.8 L1245.5,170.1 L1244.3,169.7 L1243.1,170.7 L1241.9,170.3 L1240.7,170.1 L1239.5,169.8 L1238.3,170.6 L1237.1,170.7 L1235.9,170.8 L1234.7,170.0 L1233.5,170.3 L1232.3,170.3 L1231.1,170.8 L1229.9,170.2 L1228.7,170.7 L1227.5,171.2 L1226.3,171.0 L1225.1,170.2 L1223.9,170.3 L1222.7,170.4 L1221.5,171.0 L1220.3,171.0 L1219.1,170.9 L1217.9,170.9 L1216.7,170.9 L1215.5,171.2 L1214.3,171.3 L1213.1,171.6 L1211.9,171.4 L1210.7,171.6 L1209.5,171.7 L1208.3,171.7 L1207.1,171.6 L1205.9,170.9 L1204.7,171.6 L1203.5,171.8 L1202.3,171.4 L1201.1,171.9 L1199.9,171.2 L1198.7,172.1 L1197.5,171.5 L1196.3,171.9 L1195.1,171.4 L1193.9,171.5 L1192.7,171.5 L1191.5,171.5 L1190.3,171.3 L1189.1,171.7 L1187.9,172.3 L1186.7,172.0 L1185.5,172.3 L1184.3,172.2 L1183.1,172.3 L1181.9,172.5 L1180.7,172.2 L1179.5,171.7 L1178.3,171.7 L1177.1,171.9 L1175.9,171.5 L1174.7,171.7 L1173.5,172.5 L1172.3,172.5 L1171.1,171.9 L1169.9,172.4 L1168.7,172.4 L1167.5,172.6 L1166.3,172.5 L1165.1,172.2 L1163.9,171.8 L1162.7,172.6 L1161.5,172.0 L1160.3,172.4 L1159.1,172.1 L1157.9,172.3 L1156.7,172.8 L1155.5,172.0 L1154.3,172.4 L1153.1,172.5 L1151.9,172.4 L1150.7,172.9 L1149.5,172.3 L1148.3,172.9 L1147.1,172.7 L1145.9,173.0 L1144.7,172.0 L1143.5,172.2 L1142.3,172.3 L1141.1,173.0 L1139.9,172.0 L1138.7,172.3 L1137.5,172.8 L1136.3,173.1 L1135.1,172.3 L1133.9,172.6 L1132.7,172.9 L1131.5,172.9 L1130.3,173.0 L1129.1,173.0 L1127.9,172.4 L1126.7,172.5 L1125.5,172.2 L1124.3,173.0 L1123.1,172.5 L1121.9,172.5 L1120.7,173.3 L1119.5,173.0 L1118.3,172.9 L1117.1,173.0 L1115.9,173.0 L1114.7,173.1 L1113.5,172.7 L1112.3,172.4 L1111.1,172.5 L1109.9,172.4 L1108.7,172.8 L1107.5,172.6 L1106.3,172.6 L1105.1,173.0 L1103.9,173.5 L1102.7,173.2 L1101.5,172.8 L1100.3,173.3 L1099.1,172.7 L1097.9,172.6 L1096.7,172.9 L1095.5,173.0 L1094.3,173.3 L1093.1,173.1 L1091.9,173.4 L1090.7,172.7 L1089.5,173.6 L1088.3,173.0 L1087.1,173.5 L1085.9,172.7 L1084.7,173.6 L1083.5,172.9 L1082.3,173.6 L1081.1,173.6 L1079.9,173.4 L1078.7,173.0 L1077.5,172.7 L1076.3,172.9 L1075.1,173.7 L1073.9,172.9 L1072.7,173.5 L1071.5,173.4 L1070.3,173.5 L1069.1,173.0 L1067.9,172.9 L1066.7,172.9 L1065.5,173.9 L1064.3,173.2 L1063.1,173.5 L1061.9,173.5 L1060.7,173.1 L1059.5,172.9 L1058.3,172.9 L1057.1,173.8 L1055.9,173.0 L1054.7,174.0 L1053.5,173.3 L1052.3,173.7 L1051.1,173.1 L1049.9,173.8 L1048.7,173.2 L1047.5,173.3 L1046.3,173.5 L1045.1,173.1 L1043.9,173.2 L1042.7,173.9 L1041.5,173.3 L1040.3,173.4 L1039.1,173.8 L1037.9,173.3 L1036.7,173.2 L1035.5,173.3 L1034.3,173.5 L1033.1,173.4 L1031.9,173.8 L1030.7,173.6 L1029.5,174.0 L1028.3,173.1 L1027.1,173.8 L1025.9,174.0 L1024.7,173.4 L1023.5,173.1 L1022.3,173.6 L1021.1,173.2 L1019.9,173.6 L1018.7,173.9 L1017.5,173.2 L1016.3,173.3 L1015.1,173.7 L1013.9,173.3 L1012.7,173.4 L1011.5,173.6 L1010.3,173.3 L1009.1,173.2 L1007.9,173.6 L1006.7,173.7 L1005.5,174.2 L1004.3,173.8 L1003.1,173.3 L1001.9,173.4 L1000.7,174.0 L999.5,173.8 L998.3,174.2 L997.1,174.3 L995.9,174.2 L994.7,173.3 L993.5,174.3 L992.3,173.8 L991.1,173.5 L989.9,173.4 L988.7,174.2 L987.5,173.5 L986.3,173.3 L985.1,173.5 L983.9,174.3 L982.7,173.8 L981.5,174.1 L980.3,173.3 L979.1,173.8 L977.9,173.6 L976.7,173.5 L975.5,174.0 L974.3,173.7 L973.1,173.4 L971.9,174.4 L970.7,173.8 L969.5,173.5 L968.3,173.3 L967.1,174.0 L965.9,173.9 L964.7,173.3 L963.5,173.8 L962.3,174.1 L961.1,173.9 L959.9,173.6 L958.7,173.9 L957.5,174.0 L956.3,174.0 L955.1,173.5 L953.9,174.2 L952.7,174.4 L951.5,174.1 L950.3,174.3 L949.1,173.7 L947.9,174.3 L946.7,173.5 L945.5,173.6 L944.3,174.0 L943.1,174.3 L941.9,173.4 L940.7,173.6 L939.5,173.4 L938.3,173.8 L937.1,173.5 L935.9,173.6 L934.7,174.2 L933.5,174.0 L932.3,174.4 L931.1,173.8 L929.9,174.1 L928.7,173.4 L927.5,174.4 L926.3,173.6 L925.1,173.9 L923.9,173.9 L922.7,174.4 L921.5,173.9 L920.3,174.5 L919.1,174.1 L917.9,173.6 L916.7,174.3 L915.5,173.6 L914.3,174.5 L913.1,173.9 L911.9,173.6 L910.7,174.4 L909.5,173.7 L908.3,173.8 L907.1,173.8 L905.9,174.1 L904.7,173.4 L903.5,173.8 L902.3,173.6 L901.1,174.3 L899.9,173.4 L898.7,174.1 L897.5,173.7 L896.3,173.9 L895.1,174.0 L893.9,174.2 L892.7,173.6 L891.5,173.7 L890.3,173.6 L889.1,174.5 L887.9,173.6 L886.7,173.6 L885.5,174.0 L884.3,174.1 L883.1,174.4 L881.9,173.5 L880.7,173.7 L879.5,173.6 L878.3,174.1 L877.1,173.9 L875.9,173.9 L874.7,174.4 L873.5,174.2 L872.3,174.4 L871.1,174.5 L869.9,173.7 L868.7,174.5 L867.5,173.9 L866.3,173.5 L865.1,174.5 L863.9,173.6 L862.7,173.5 L861.5,173.8 L860.3,173.8 L859.1,174.5 L857.9,174.4 L856.7,173.9 L855.5,174.1 L854.3,174.4 L853.1,174.4 L851.9,174.2 L850.7,174.0 L849.5,173.6 L848.3,173.8 L847.1,174.2 L845.9,174.1 L844.7,174.4 L843.5,174.5 L842.3,174.6 L841.1,173.7 L839.9,173.6 L838.7,174.5Z" fill="#ff0000"/>
<path d="M838.7,172.6 L839.9,173.0 L841.1,172.4 L842.3,172.9 L843.5,172.9 L844.7,172.8 L845.9,172.6 L847.1,172.4 L848.3,173.1 L849.5,172.3 L850.7,172.5 L851.9,172.6 L853.1,172.4 L854.3,172.3 L855.5,173.1 L856.7,172.6 L857.9,172.4 L859.1,172.3 L860.3,172.4 L861.5,172.9 L862.7,172.1 L863.9,172.2 L865.1,172.9 L866.3,172.6 L867.5,172.0 L868.7,172.9 L869.9,172.6 L871.1,172.0 L872.3,172.1 L873.5,172.8 L874.7,172.3 L875.9,172.7 L877.1,172.3 L878.3,172.2 L879.5,172.9 L880.7,172.8 L881.9,172.8 L883.1,172.8 L884.3,173.0 L885.5,172.9 L886.7,172.6 L887.9,172.6 L889.1,172.9 L890.3,172.4 L891.5,172.0 L892.7,172.4 L893.9,172.6 L895.1,172.2 L896.3,172.5 L897.5,172.8 L898.7,172.5 L899.9,173.0 L901.1,172.2 L902.3,172.8 L903.5,172.6 L904.7,171.9 L905.9,172.1 L907.1,172.0 L908.3,172.3 L909.5,172.3 L910.7,172.2 L911.9,171.9 L913.1,172.7 L914.3,172.1 L915.5,172.6 L916.7,172.7 L917.9,172.0 L919.1,172.3 L920.3,172.0 L921.5,172.0 L922.7,172.3 L923.9,172.7 L925.1,172.9 L926.3,172.3 L927.5,172.1 L928.7,172.6 L929.9,172.8 L931.1,172.9 L932.3,172.7 L933.5,172.1 L934.7,172.9 L935.9,172.6 L937.1,172.6 L938.3,172.1 L939.5,171.8 L940.7,172.8 L941.9,172.7 L943.1,171.8 L944.3,171.8 L945.5,172.7 L946.7,172.5 L947.9,172.2 L949.1,172.5 L950.3,172.4 L951.5,172.3 L952.7,172.5 L953.9,172.7 L955.1,172.7 L956.3,172.6 L957.5,172.7 L958.7,172.1 L959.9,172.0 L961.1,172.5 L962.3,171.9 L963.5,172.0 L964.7,172.4 L965.9,172.2 L967.1,172.5 L968.3,171.7 L969.5,172.1 L970.7,172.7 L971.9,172.6 L973.1,172.0 L974.3,172.3 L975.5,171.9 L976.7,172.5 L977.9,171.8 L979.1,171.8 L980.3,172.6 L981.5,172.0 L982.7,172.5 L983.9,171.9 L985.1,171.8 L986.3,171.8 L987.5,172.4 L988.7,172.6 L989.9,171.9 L991.1,172.0 L992.3,172.5 L993.5,172.4 L994.7,172.0 L995.9,172.5 L997.1,171.9 L998.3,172.3 L999.5,172.3 L1000.7,172.1 L1001.9,172.0 L1003.1,171.8 L1004.3,172.5 L1005.5,171.8 L1006.7,172.3 L1007.9,172.2 L1009.1,171.8 L1010.3,171.8 L1011.5,171.9 L1012.7,171.5 L1013.9,172.3 L1015.1,172.2 L1016.3,171.8 L1017.5,172.2 L1018.7,172.3 L1019.9,172.2 L1021.1,171.6 L1022.3,171.6 L1023.5,171.7 L1024.7,171.4 L1025.9,171.6 L1027.1,172.1 L1028.3,172.1 L1029.5,171.6 L1030.7,172.4 L1031.9,171.7 L1033.1,172.3 L1034.3,172.3 L1035.5,171.8 L1036.7,172.2 L1037.9,171.3 L1039.1,171.4 L1040.3,171.8 L1041.5,172.1 L1042.7,172.2 L1043.9,171.8 L1045.1,171.7 L1046.3,171.9 L1047.5,171.5 L1048.7,171.7 L1049.9,171.4 L1051.1,172.2 L1052.3,172.2 L1053.5,171.8 L1054.7,171.7 L1055.9,172.0 L1057.1,171.5 L1058.3,172.0 L1059.5,171.9 L1060.7,171.7 L1061.9,171.4 L1063.1,171.3 L1064.3,171.8 L1065.5,171.7 L1066.7,171.1 L1067.9,171.1 L1069.1,171.5 L1070.3,172.0 L1071.5,171.6 L1072.7,171.4 L1073.9,171.8 L1075.1,172.0 L1076.3,171.0 L1077.5,171.1 L1078.7,171.9 L1079.9,171.5 L1081.1,171.4 L1082.3,171.7 L1083.5,171.9 L1084.7,171.2 L1085.9,171.2 L1087.1,171.5 L1088.3,171.9 L1089.5,171.5 L1090.7,171.9 L1091.9,170.9 L1093.1,171.9 L1094.3,171.6 L1095.5,171.1 L1096.7,171.8 L1097.9,171.8 L1099.1,171.8 L1100.3,171.7 L1101.5,171.3 L1102.7,171.0 L1103.9,171.7 L1105.1,171.7 L1106.3,171.0 L1107.5,171.4 L1108.7,171.5 L1109.9,171.7 L1111.1,171.6 L1112.3,170.7 L1113.5,171.7 L1114.7,171.5 L1115.9,171.0 L1117.1,170.8 L1118.3,170.8 L1119.5,171.2 L1120.7,170.7 L1121.9,171.1 L1123.1,171.4 L1124.3,171.2 L1125.5,170.9 L1126.7,170.9 L1127.9,171.6 L1129.1,171.5 L1130.3,170.6 L1131.5,171.6 L1132.7,170.8 L1133.9,171.3 L1135.1,171.4 L1136.3,171.4 L1137.5,171.1 L1138.7,170.5 L1139.9,171.4 L1141.1,170.6 L1142.3,171.2 L1143.5,171.4 L1144.7,170.7 L1145.9,171.2 L1147.1,171.3 L1148.3,171.0 L1149.5,170.6 L1150.7,170.5 L1151.9,170.8 L1153.1,171.4 L1154.3,170.6 L1155.5,170.7 L1156.7,170.4 L1157.9,170.3 L1159.1,170.9 L1160.3,170.4 L1161.5,170.4 L1162.7,170.9 L1163.9,170.8 L1165.1,170.8 L1166.3,170.8 L1167.5,170.7 L1168.7,171.0 L1169.9,170.9 L1171.1,170.1 L1172.3,170.6 L1173.5,170.3 L1174.7,170.0 L1175.9,170.1 L1177.1,170.7 L1178.3,169.9 L1179.5,170.0 L1180.7,169.8 L1181.9,170.0 L1183.1,170.0 L1184.3,169.9 L1185.5,170.5 L1186.7,170.0 L1187.9,170.3 L1189.1,169.7 L1190.3,170.5 L1191.5,170.0 L1192.7,170.2 L1193.9,169.6 L1195.1,170.1 L1196.3,169.6 L1197.5,169.5 L1198.7,169.5 L1199.9,170.2 L1201.1,169.3 L1202.3,169.5 L1203.5,169.6 L1204.7,169.6 L1205.9,170.2 L1207.1,169.3 L1208.3,169.6 L1209.5,169.6 L1210.7,169.7 L1211.9,169.2 L1213.1,169.2 L1214.3,169.1 L1215.5,169.7 L1216.7,169.6 L1217.9,169.6 L1219.1,169.8 L1220.3,169.5 L1221.5,169.8 L1222.7,168.9 L1223.9,169.5 L1225.1,169.6 L1226.3,169.6 L1227.5,168.8 L1228.7,169.4 L1229.9,169.1 L1231.1,169.1 L1232.3,168.7 L1233.5,168.5 L1234.7,169.2 L1235.9,168.8 L1237.1,168.5 L1238.3,168.9 L1239.5,168.4 L1240.7,168.6 L1241.9,169.0 L1243.1,168.4 L1244.3,168.7 L1245.5,169.2 L1246.7,168.6 L1247.9,168.3 L1249.1,168.7 L1250.3,168.7 L1251.5,168.7 L1252.7,168.2 L1253.9,168.4 L1255.1,168.9 L1256.3,168.7 L1257.5,168.7 L1258.7,168.0 L1259.9,168.2 L1261.1,168.8 L1262.3,167.9 L1263.5,168.9 L1264.7,168.2 L1265.9,168.4 L1267.1,168.0 L1268.3,168.3 L1269.5,168.6 L1270.7,168.1 L1271.9,167.7 L1273.1,167.7 L1274.3,168.1 L1275.5,168.2 L1276.7,167.6 L1277.9,167.5 L1279.1,168.1 L1280.3,167.3 L1281.5,167.2 L1282.7,167.7 L1283.9,167.8 L1285.1,167.4 L1286.3,167.1 L1287.5,167.8 L1288.7,167.7 L1289.9,167.6 L1291.1,167.2 L1292.3,167.7 L1293.5,167.3 L1294.7,167.3 L1295.9,167.1 L1297.1,167.7 L1298.3,166.8 L1299.5,166.7 L1300.7,167.1 L1301.9,166.9 L1303.1,167.5 L1304.3,166.7 L1305.5,167.1 L1306.7,166.8 L1307.9,166.7 L1309.1,167.2 L1310.3,166.6 L1311.5,167.3 L1312.7,167.5 L1313.9,167.0 L1315.1,166.5 L1316.3,166.5 L1317.5,166.4 L1318.7,166.9 L1319.9,166.4 L1321.1,166.8 L1322.3,167.2 L1323.5,166.6 L1324.7,166.4 L1325.9,166.8 L1327.1,166.6 L1328.3,166.9 L1329.5,166.9 L1330.7,166.7 L1331.9,166.6 L1333.1,166.6 L1334.3,167.0 L1335.5,167.1 L1336.7,166.7 L1337.9,166.2 L1339.1,166.2 L1340.3,166.7 L1341.5,166.7 L1342.7,166.4 L1343.9,166.7 L1344.3,166.2 L1344.3,172.1 L1343.9,171.4 L1342.7,171.9 L1341.5,172.2 L1340.3,172.3 L1339.1,172.4 L1337.9,172.5 L1336.7,172.2 L1335.5,172.9 L1334.3,173.1 L1333.1,172.3 L1331.9,173.4 L1330.7,173.0 L1329.5,172.7 L1328.3,172.8 L1327.1,173.7 L1325.9,173.7 L1324.7,173.3 L1323.5,173.8 L1322.3,174.1 L1321.1,174.7 L1319.9,174.1 L1318.7,174.7 L1317.5,174.3 L1316.3,174.4 L1315.1,174.5 L1313.9,175.0 L1312.7,175.4 L1311.5,175.2 L1310.3,175.2 L1309.1,175.5 L1307.9,175.5 L1306.7,175.8 L1305.5,176.2 L1304.3,176.6 L1303.1,176.4 L1301.9,176.9 L1300.7,177.1 L1299.5,177.9 L1298.3,177.5 L1297.1,178.2 L1295.9,177.9 L1294.7,177.8 L1293.5,178.5 L1292.3,178.2 L1291.1,178.4 L1289.9,178.5 L1288.7,179.4 L1287.5,179.9 L1286.3,179.5 L1285.1,179.6 L1283.9,179.9 L1282.7,180.0 L1281.5,180.6 L1280.3,180.5 L1279.1,180.5 L1277.9,181.5 L1276.7,181.4 L1275.5,181.0 L1274.3,182.1 L1273.1,182.2 L1271.9,182.0 L1270.7,182.5 L1269.5,183.1 L1268.3,182.7 L1267.1,183.0 L1265.9,183.0 L1264.7,183.5 L1263.5,183.8 L1262.3,184.1 L1261.1,184.6 L1259.9,183.9 L1258.7,184.3 L1257.5,185.0 L1256.3,185.2 L1255.1,185.1 L1253.9,185.4 L1252.7,185.2 L1251.5,186.1 L1250.3,185.8 L1249.1,185.8 L1247.9,185.8 L1246.7,185.9 L1245.5,186.9 L1244.3,187.0 L1243.1,186.3 L1241.9,186.8 L1240.7,187.2 L1239.5,187.4 L1238.3,187.4 L1237.1,188.2 L1235.9,187.8 L1234.7,188.2 L1233.5,188.8 L1232.3,188.7 L1231.1,188.7 L1229.9,188.8 L1228.7,189.1 L1227.5,189.5 L1226.3,189.9 L1225.1,189.6 L1223.9,190.0 L1222.7,190.2 L1221.5,190.4 L1220.3,191.3 L1219.1,191.1 L1217.9,191.1 L1216.7,191.4 L1215.5,192.2 L1214.3,191.7 L1213.1,192.6 L1211.9,192.1 L1210.7,192.5 L1209.5,192.6 L1208.3,193.7 L1207.1,193.2 L1205.9,193.6 L1204.7,193.6 L1203.5,194.1 L1202.3,194.9 L1201.1,195.1 L1199.9,195.5 L1198.7,195.8 L1197.5,195.6 L1196.3,196.2 L1195.1,195.5 L1193.9,196.7 L1192.7,196.4 L1191.5,196.4 L1190.3,197.2 L1189.1,197.6 L1187.9,197.3 L1186.7,197.2 L1185.5,198.3 L1184.3,198.4 L1183.1,198.4 L1181.9,199.0 L1180.7,198.2 L1179.5,198.5 L1178.3,198.7 L1177.1,198.8 L1175.9,199.8 L1174.7,199.9 L1173.5,199.5 L1172.3,199.7 L1171.1,199.9 L1169.9,200.5 L1168.7,200.7 L1167.5,201.2 L1166.3,200.6 L1165.1,201.4 L1163.9,201.0 L1162.7,201.0 L1161.5,201.0 L1160.3,201.1 L1159.1,202.0 L1157.9,202.2 L1156.7,202.0 L1155.5,201.5 L1154.3,201.6 L1153.1,201.7 L1151.9,202.0 L1150.7,202.5 L1149.5,201.9 L1148.3,202.5 L1147.1,202.8 L1145.9,202.1 L1144.7,202.7 L1143.5,203.2 L1142.3,203.0 L1141.1,203.0 L1139.9,203.6 L1138.7,203.4 L1137.5,203.2 L1136.3,203.4 L1135.1,204.1 L1133.9,204.1 L1132.7,204.2 L1131.5,203.9 L1130.3,203.6 L1129.1,203.7 L1127.9,204.1 L1126.7,204.5 L1125.5,203.8 L1124.3,204.8 L1123.1,204.9 L1121.9,204.7 L1120.7,204.2 L1119.5,205.2 L1118.3,204.9 L1117.1,205.3 L1115.9,205.3 L1114.7,205.5 L1113.5,205.3 L1112.3,206.0 L1111.1,206.0 L1109.9,206.1 L1108.7,205.9 L1107.5,205.6 L1106.3,205.8 L1105.1,205.7 L1103.9,206.5 L1102.7,206.5 L1101.5,206.6 L1100.3,206.7 L1099.1,207.0 L1097.9,206.7 L1096.7,206.4 L1095.5,206.9 L1094.3,206.5 L1093.1,206.9 L1091.9,206.5 L1090.7,207.4 L1089.5,207.0 L1088.3,206.9 L1087.1,207.7 L1085.9,206.8 L1084.7,207.8 L1083.5,207.7 L1082.3,207.1 L1081.1,207.9 L1079.9,207.8 L1078.7,208.2 L1077.5,207.9 L1076.3,207.8 L1075.1,208.5 L1073.9,207.6 L1072.7,208.4 L1071.5,207.8 L1070.3,208.0 L1069.1,207.9 L1067.9,208.8 L1066.7,208.4 L1065.5,208.8 L1064.3,208.3 L1063.1,208.9 L1061.9,208.9 L1060.7,208.3 L1059.5,208.8 L1058.3,209.1 L1057.1,208.6 L1055.9,209.2 L1054.7,208.8 L1053.5,209.0 L1052.3,209.6 L1051.1,209.7 L1049.9,209.8 L1048.7,209.2 L1047.5,209.4 L1046.3,209.7 L1045.1,209.7 L1043.9,209.4 L1042.7,209.9 L1041.5,209.4 L1040.3,210.1 L1039.1,209.6 L1037.9,209.3 L1036.7,210.0 L1035.5,209.4 L1034.3,210.0 L1033.1,209.3 L1031.9,210.4 L1030.7,209.9 L1029.5,210.2 L1028.3,209.6 L1027.1,210.2 L1025.9,209.9 L1024.7,209.8 L1023.5,210.5 L1022.3,209.6 L1021.1,210.2 L1019.9,209.8 L1018.7,210.6 L1017.5,210.7 L1016.3,209.8 L1015.1,210.3 L1013.9,210.3 L1012.7,210.6 L1011.5,210.7 L1010.3,210.3 L1009.1,210.9 L1007.9,210.1 L1006.7,210.1 L1005.5,210.9 L1004.3,210.1 L1003.1,210.2 L1001.9,210.6 L1000.7,210.5 L999.5,210.3 L998.3,211.2 L997.1,210.7 L995.9,211.0 L994.7,210.5 L993.5,211.2 L992.3,210.5 L991.1,211.3 L989.9,211.0 L988.7,211.4 L987.5,211.2 L986.3,211.1 L985.1,211.0 L983.9,211.3 L982.7,210.9 L981.5,210.6 L980.3,211.5 L979.1,211.4 L977.9,211.3 L976.7,211.4 L975.5,210.8 L974.3,211.1 L973.1,211.5 L971.9,211.7 L970.7,211.6 L969.5,210.8 L968.3,211.4 L967.1,211.3 L965.9,211.1 L964.7,210.9 L963.5,210.9 L962.3,211.3 L961.1,211.3 L959.9,211.1 L958.7,211.2 L957.5,211.4 L956.3,211.6 L955.1,211.4 L953.9,211.0 L952.7,211.8 L951.5,211.2 L950.3,211.9 L949.1,211.9 L947.9,211.0 L946.7,211.4 L945.5,211.9 L944.3,211.2 L943.1,211.4 L941.9,211.1 L940.7,210.8 L939.5,211.0 L938.3,210.9 L937.1,211.1 L935.9,211.5 L934.7,211.4 L933.5,211.8 L932.3,211.6 L931.1,211.2 L929.9,211.8 L928.7,211.5 L927.5,211.4 L926.3,211.7 L925.1,211.5 L923.9,211.2 L922.7,211.5 L921.5,211.1 L920.3,211.9 L919.1,211.1 L917.9,211.9 L916.7,210.9 L915.5,210.8 L914.3,211.4 L913.1,211.0 L911.9,211.4 L910.7,210.9 L909.5,211.7 L908.3,211.5 L907.1,211.6 L905.9,211.8 L904.7,211.9 L903.5,211.5 L902.3,211.6 L901.1,210.8 L899.9,210.9 L898.7,211.3 L897.5,211.9 L896.3,211.1 L895.1,211.4 L893.9,210.8 L892.7,211.3 L891.5,211.8 L890.3,211.4 L889.1,211.7 L887.9,210.8 L886.7,211.0 L885.5,211.0 L884.3,211.7 L883.1,210.9 L881.9,211.8 L880.7,211.1 L879.5,211.8 L878.3,211.4 L877.1,211.2 L875.9,211.9 L874.7,211.2 L873.5,211.6 L872.3,210.9 L871.1,211.7 L869.9,211.9 L868.7,210.9 L867.5,211.6 L866.3,211.1 L865.1,211.0 L863.9,211.2 L862.7,211.5 L861.5,211.8 L860.3,211.9 L859.1,211.9 L857.9,211.5 L856.7,211.5 L855.5,211.0 L854.3,211.6 L853.1,211.4 L851.9,211.2 L850.7,211.8 L849.5,211.1 L848.3,211.0 L847.1,211.0 L845.9,211.0 L844.7,211.4 L843.5,211.7 L842.3,211.0 L841.1,211.4 L839.9,211.4 L838.7,211.4Z" fill="#0000ff"/>
<rect x="129.5" y="30.75" width="534.50" height="534.75" fill="none" stroke="#000" stroke-width="2.6"/>
<rect x="838.7" y="26.9" width="537.90" height="538.10" fill="none" stroke="#000" stroke-width="2.6"/>
<g transform="translate(0,41.05) scale(1,1.03)"><path transform="translate(94.02,0) scale(0.01367,-0.01367)" d="M565,0 V1200 Q420,1060 140,1040 V1150 Q460,1190 580,1409 H730 V0 Z"/></g>
<g transform="translate(0,219.60) scale(1,1.03)"><path transform="translate(66.75,0) scale(0.01367,-0.01367)" d="M565,0 V1200 Q420,1060 140,1040 V1150 Q460,1190 580,1409 H730 V0 Z"/><text x="82.32" y="0" font-size="28.0" font-family="Liberation Sans">0</text></g>
<g transform="translate(0,194.90) scale(1,1.03)"><text x="109.72" y="0" font-size="22.0" font-family="Liberation Sans">-</text><path transform="translate(117.05,0) scale(0.01074,-0.01074)" d="M565,0 V1200 Q420,1060 140,1040 V1150 Q460,1190 580,1409 H730 V0 Z"/></g>
<g transform="translate(0,397.85) scale(1,1.03)"><path transform="translate(66.75,0) scale(0.01367,-0.01367)" d="M565,0 V1200 Q420,1060 140,1040 V1150 Q460,1190 580,1409 H730 V0 Z"/><text x="82.32" y="0" font-size="28.0" font-family="Liberation Sans">0</text></g>
<g transform="translate(0,373.15) scale(1,1.03)"><text x="109.72" y="0" font-size="22.0" font-family="Liberation Sans">-2</text></g>
<g transform="translate(0,576.10) scale(1,1.03)"><path transform="translate(66.75,0) scale(0.01367,-0.01367)" d="M565,0 V1200 Q420,1060 140,1040 V1150 Q460,1190 580,1409 H730 V0 Z"/><text x="82.32" y="0" font-size="28.0" font-family="Liberation Sans">0</text></g>
<g transform="translate(0,551.40) scale(1,1.03)"><text x="109.72" y="0" font-size="22.0" font-family="Liberation Sans">-3</text></g>
<g transform="translate(0,620.50) scale(1,1.03)"><path transform="translate(103.75,0) scale(0.01367,-0.01367)" d="M565,0 V1200 Q420,1060 140,1040 V1150 Q460,1190 580,1409 H730 V0 Z"/><text x="119.32" y="0" font-size="28.0" font-family="Liberation Sans">0</text></g>
<g transform="translate(0,599.60) scale(1,1.03)"><text x="143.22" y="0" font-size="22.0" font-family="Liberation Sans">-4</text></g>
<g transform="translate(0,620.50) scale(1,1.03)"><path transform="translate(281.52,0) scale(0.01367,-0.01367)" d="M565,0 V1200 Q420,1060 140,1040 V1150 Q460,1190 580,1409 H730 V0 Z"/><text x="297.09" y="0" font-size="28.0" font-family="Liberation Sans">0</text></g>
<g transform="translate(0,599.60) scale(1,1.03)"><text x="320.19" y="0" font-size="22.0" font-family="Liberation Sans">-3</text></g>
<g transform="translate(0,620.50) scale(1,1.03)"><path transform="translate(459.28,0) scale(0.01367,-0.01367)" d="M565,0 V1200 Q420,1060 140,1040 V1150 Q460,1190 580,1409 H730 V0 Z"/><text x="474.85" y="0" font-size="28.0" font-family="Liberation Sans">0</text></g>
<g transform="translate(0,599.60) scale(1,1.03)"><text x="498.66" y="0" font-size="22.0" font-family="Liberation Sans">-2</text></g>
<g transform="translate(0,620.50) scale(1,1.03)"><path transform="translate(637.65,0) scale(0.01367,-0.01367)" d="M565,0 V1200 Q420,1060 140,1040 V1150 Q460,1190 580,1409 H730 V0 Z"/><text x="653.22" y="0" font-size="28.0" font-family="Liberation Sans">0</text></g>
<g transform="translate(0,599.60) scale(1,1.03)"><text x="677.12" y="0" font-size="22.0" font-family="Liberation Sans">-</text><path transform="translate(684.45,0) scale(0.01074,-0.01074)" d="M565,0 V1200 Q420,1060 140,1040 V1150 Q460,1190 580,1409 H730 V0 Z"/></g>
<g transform="translate(0,37.20) scale(1,1.03)"><path transform="translate(803.22,0) scale(0.01367,-0.01367)" d="M565,0 V1200 Q420,1060 140,1040 V1150 Q460,1190 580,1409 H730 V0 Z"/></g>
<g transform="translate(0,216.87) scale(1,1.03)"><path transform="translate(775.95,0) scale(0.01367,-0.01367)" d="M565,0 V1200 Q420,1060 140,1040 V1150 Q460,1190 580,1409 H730 V0 Z"/><text x="791.52" y="0" font-size="28.0" font-family="Liberation Sans">0</text></g>
<g transform="translate(0,192.17) scale(1,1.03)"><text x="818.92" y="0" font-size="22.0" font-family="Liberation Sans">-</text><path transform="translate(826.25,0) scale(0.01074,-0.01074)" d="M565,0 V1200 Q420,1060 140,1040 V1150 Q460,1190 580,1409 H730 V0 Z"/></g>
<g transform="translate(0,396.23) scale(1,1.03)"><path transform="translate(775.95,0) scale(0.01367,-0.01367)" d="M565,0 V1200 Q420,1060 140,1040 V1150 Q460,1190 580,1409 H730 V0 Z"/><text x="791.52" y="0" font-size="28.0" font-family="Liberation Sans">0</text></g>
<g transform="translate(0,371.53) scale(1,1.03)"><text x="818.92" y="0" font-size="22.0" font-family="Liberation Sans">-2</text></g>
<g transform="translate(0,575.60) scale(1,1.03)"><path transform="translate(775.95,0) scale(0.01367,-0.01367)" d="M565,0 V1200 Q420,1060 140,1040 V1150 Q460,1190 580,1409 H730 V0 Z"/><text x="791.52" y="0" font-size="28.0" font-family="Liberation Sans">0</text></g>
<g transform="translate(0,550.90) scale(1,1.03)"><text x="818.92" y="0" font-size="22.0" font-family="Liberation Sans">-3</text></g>
<g transform="translate(0,620.00) scale(1,1.03)"><path transform="translate(812.95,0) scale(0.01367,-0.01367)" d="M565,0 V1200 Q420,1060 140,1040 V1150 Q460,1190 580,1409 H730 V0 Z"/><text x="828.52" y="0" font-size="28.0" font-family="Liberation Sans">0</text></g>
<g transform="translate(0,599.10) scale(1,1.03)"><text x="852.32" y="0" font-size="22.0" font-family="Liberation Sans">-4</text></g>
<g transform="translate(0,620.00) scale(1,1.03)"><path transform="translate(991.95,0) scale(0.01367,-0.01367)" d="M565,0 V1200 Q420,1060 140,1040 V1150 Q460,1190 580,1409 H730 V0 Z"/><text x="1007.52" y="0" font-size="28.0" font-family="Liberation Sans">0</text></g>
<g transform="translate(0,599.10) scale(1,1.03)"><text x="1031.32" y="0" font-size="22.0" font-family="Liberation Sans">-3</text></g>
<g transform="translate(0,620.00) scale(1,1.03)"><path transform="translate(1170.45,0) scale(0.01367,-0.01367)" d="M565,0 V1200 Q420,1060 140,1040 V1150 Q460,1190 580,1409 H730 V0 Z"/><text x="1186.02" y="0" font-size="28.0" font-family="Liberation Sans">0</text></g>
<g transform="translate(0,599.10) scale(1,1.03)"><text x="1210.02" y="0" font-size="22.0" font-family="Liberation Sans">-2</text></g>
<g transform="translate(0,620.00) scale(1,1.03)"><path transform="translate(1349.25,0) scale(0.01367,-0.01367)" d="M565,0 V1200 Q420,1060 140,1040 V1150 Q460,1190 580,1409 H730 V0 Z"/><text x="1364.82" y="0" font-size="28.0" font-family="Liberation Sans">0</text></g>
<g transform="translate(0,599.10) scale(1,1.03)"><text x="1389.72" y="0" font-size="22.0" font-family="Liberation Sans">-</text><path transform="translate(1397.05,0) scale(0.01074,-0.01074)" d="M565,0 V1200 Q420,1060 140,1040 V1150 Q460,1190 580,1409 H730 V0 Z"/></g>
<text x="5.98" y="30.40" font-size="32.8" font-family="Liberation Sans" fill="#000" font-weight="bold" stroke="#000" stroke-width="0.45">A</text>
<text x="712.44" y="29.80" font-size="32.3" font-family="Liberation Sans" fill="#000" font-weight="bold" stroke="#000" stroke-width="0.45">B</text>
<text transform="translate(592.68,68.50) scale(1,1.045)" font-size="28.3" font-family="Liberation Sans" fill="#000">NH</text>
<text transform="translate(1304.99,65.00) scale(1,1.045)" font-size="28.3" font-family="Liberation Sans" fill="#000">IH</text>
<text transform="translate(182.90,259.20) scale(1,1.045)" font-size="28.3" font-family="Liberation Sans" fill="#000">eW</text>
<text transform="translate(892.30,108.30) scale(1,1.045)" font-size="28.3" font-family="Liberation Sans" fill="#000">eW</text>
<text transform="translate(181.57,112.00) scale(1.04,1)" font-size="32.5" style="font-family:'Liberation Serif',serif" fill="#ff0000">μ</text>
<text transform="translate(200.38,112.00) scale(1,1.045)" font-size="28.3" font-family="Liberation Sans" fill="#ff0000">W</text>
<text transform="translate(267.59,112.00) scale(1.04,1)" font-size="32.5" style="font-family:'Liberation Serif',serif" fill="#0000ff">τ</text>
<text transform="translate(281.58,112.00) scale(1,1.045)" font-size="28.3" font-family="Liberation Sans" fill="#0000ff">W</text>
<text transform="translate(890.97,257.00) scale(1.04,1)" font-size="32.5" style="font-family:'Liberation Serif',serif" fill="#ff0000">μ</text>
<text transform="translate(910.08,257.00) scale(1,1.045)" font-size="28.3" font-family="Liberation Sans" fill="#ff0000">W</text>
<text transform="translate(977.69,257.00) scale(1.04,1)" font-size="32.5" style="font-family:'Liberation Serif',serif" fill="#0000ff">τ</text>
<text transform="translate(991.48,257.00) scale(1,1.045)" font-size="28.3" font-family="Liberation Sans" fill="#0000ff">W</text>
<text transform="translate(567.79,648.00) scale(1,1.02)" font-size="27.2" font-family="Liberation Sans" fill="#000">m</text>
<g transform="translate(0,657.20) scale(1,1.03)"><path transform="translate(591.69,0) scale(0.00952,-0.00952)" d="M565,0 V1200 Q420,1060 140,1040 V1150 Q460,1190 580,1409 H730 V0 Z"/></g>
<text transform="translate(611.71,648.00) scale(1,1.02)" font-size="27.2" font-family="Liberation Sans" fill="#000">(eV)</text>
<text transform="translate(1279.59,647.80) scale(1,1.02)" font-size="27.2" font-family="Liberation Sans" fill="#000">m</text>
<g transform="translate(0,657.00) scale(1,1.03)"><text x="1303.76" y="0" font-size="19.5" font-family="Liberation Sans">3</text></g>
<text transform="translate(1323.51,647.80) scale(1,1.02)" font-size="27.2" font-family="Liberation Sans" fill="#000">(eV)</text>
<g transform="translate(55.8,280.3) rotate(-90) scale(1,1.045)"><text x="-2.02" y="-0.00" font-size="28.3" font-family="Liberation Sans">B</text><text x="17.58" y="-0.00" font-size="28.3" font-family="Liberation Sans">R</text><text x="37.65" y="-0.00" font-size="28.3" font-family="Liberation Sans">(</text><text x="46.31" y="-0.00" font-size="28.3" font-family="Liberation Sans">Σ</text><text x="64.63" y="8.50" font-size="17.5" font-family="Liberation Sans">i</text><text x="67.98" y="-0.00" font-size="28.3" font-family="Liberation Sans">N</text><text x="89.23" y="8.50" font-size="17.5" font-family="Liberation Sans">i</text><path d="M95.2,-6.9 H118.6 M112.4,-13.9 L119.3,-6.9 L112.4,0.09999999999999964" stroke="#000" stroke-width="1.9" fill="none"/><text x="120.89" y="-0.00" font-size="28.3" font-family="Liberation Sans">l</text><text x="127.95" y="-11.80" font-size="17.5" font-family="Liberation Sans">+</text><text x="139.88" y="-0.00" font-size="28.3" font-family="Liberation Sans">W</text><text x="166.82" y="-14.50" font-size="17.5" font-family="Liberation Sans">-</text><text x="172.72" y="3.20" font-size="28.3" font-family="Liberation Sans">+</text><text x="188.99" y="-0.00" font-size="28.3" font-family="Liberation Sans">l</text><text x="195.52" y="-14.50" font-size="17.5" font-family="Liberation Sans">-</text><text x="202.88" y="-0.00" font-size="28.3" font-family="Liberation Sans">W</text><text x="228.95" y="-11.80" font-size="17.5" font-family="Liberation Sans">+</text><text x="240.63" y="-0.00" font-size="28.3" font-family="Liberation Sans">)</text></g>
<g transform="translate(764.4,278.2) rotate(-90) scale(1,1.045)"><text x="-2.02" y="-0.00" font-size="28.3" font-family="Liberation Sans">B</text><text x="17.58" y="-0.00" font-size="28.3" font-family="Liberation Sans">R</text><text x="37.65" y="-0.00" font-size="28.3" font-family="Liberation Sans">(</text><text x="46.31" y="-0.00" font-size="28.3" font-family="Liberation Sans">Σ</text><text x="64.63" y="8.50" font-size="17.5" font-family="Liberation Sans">i</text><text x="67.98" y="-0.00" font-size="28.3" font-family="Liberation Sans">N</text><text x="89.23" y="8.50" font-size="17.5" font-family="Liberation Sans">i</text><path d="M95.2,-6.9 H118.6 M112.4,-13.9 L119.3,-6.9 L112.4,0.09999999999999964" stroke="#000" stroke-width="1.9" fill="none"/><text x="120.89" y="-0.00" font-size="28.3" font-family="Liberation Sans">l</text><text x="127.95" y="-11.80" font-size="17.5" font-family="Liberation Sans">+</text><text x="139.88" y="-0.00" font-size="28.3" font-family="Liberation Sans">W</text><text x="166.82" y="-14.50" font-size="17.5" font-family="Liberation Sans">-</text><text x="172.72" y="3.20" font-size="28.3" font-family="Liberation Sans">+</text><text x="188.99" y="-0.00" font-size="28.3" font-family="Liberation Sans">l</text><text x="195.52" y="-14.50" font-size="17.5" font-family="Liberation Sans">-</text><text x="202.88" y="-0.00" font-size="28.3" font-family="Liberation Sans">W</text><text x="228.95" y="-11.80" font-size="17.5" font-family="Liberation Sans">+</text><text x="240.63" y="-0.00" font-size="28.3" font-family="Liberation Sans">)</text></g>
</svg>
</body></html>
